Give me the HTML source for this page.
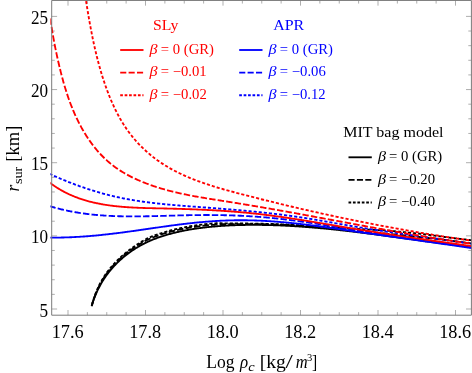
<!DOCTYPE html>
<html><head><meta charset="utf-8"><title>r_sur vs Log rho_c</title>
<style>html,body{margin:0;padding:0;background:#fff;overflow:hidden}body{width:472px;height:373px;font-family:"Liberation Serif",serif}svg{display:block;opacity:0.999;will-change:transform}</style></head>
<body>
<svg width="472" height="373" viewBox="0 0 472 373">
<rect width="472" height="373" fill="#fff"/>
<defs><clipPath id="c"><rect x="50.400000000000006" y="0" width="422.3" height="315.2"/></clipPath></defs>
<path d="M68.00,315.2 v-5.2 M68.00,0.45 v5.2 M87.37,315.2 v-3.1 M87.37,0.45 v3.1 M106.75,315.2 v-3.1 M106.75,0.45 v3.1 M126.12,315.2 v-3.1 M126.12,0.45 v3.1 M145.50,315.2 v-5.2 M145.50,0.45 v5.2 M164.88,315.2 v-3.1 M164.88,0.45 v3.1 M184.25,315.2 v-3.1 M184.25,0.45 v3.1 M203.62,315.2 v-3.1 M203.62,0.45 v3.1 M223.00,315.2 v-5.2 M223.00,0.45 v5.2 M242.37,315.2 v-3.1 M242.37,0.45 v3.1 M261.75,315.2 v-3.1 M261.75,0.45 v3.1 M281.12,315.2 v-3.1 M281.12,0.45 v3.1 M300.50,315.2 v-5.2 M300.50,0.45 v5.2 M319.87,315.2 v-3.1 M319.87,0.45 v3.1 M339.25,315.2 v-3.1 M339.25,0.45 v3.1 M358.62,315.2 v-3.1 M358.62,0.45 v3.1 M378.00,315.2 v-5.2 M378.00,0.45 v5.2 M397.37,315.2 v-3.1 M397.37,0.45 v3.1 M416.75,315.2 v-3.1 M416.75,0.45 v3.1 M436.12,315.2 v-3.1 M436.12,0.45 v3.1 M455.50,315.2 v-5.2 M455.50,0.45 v5.2 M51.7,309.00 h5.4 M471.4,309.00 h-5.4 M51.7,294.37 h3.1 M471.4,294.37 h-3.1 M51.7,279.74 h3.1 M471.4,279.74 h-3.1 M51.7,265.11 h3.1 M471.4,265.11 h-3.1 M51.7,250.48 h3.1 M471.4,250.48 h-3.1 M51.7,235.85 h5.4 M471.4,235.85 h-5.4 M51.7,221.22 h3.1 M471.4,221.22 h-3.1 M51.7,206.59 h3.1 M471.4,206.59 h-3.1 M51.7,191.96 h3.1 M471.4,191.96 h-3.1 M51.7,177.33 h3.1 M471.4,177.33 h-3.1 M51.7,162.70 h5.4 M471.4,162.70 h-5.4 M51.7,148.07 h3.1 M471.4,148.07 h-3.1 M51.7,133.44 h3.1 M471.4,133.44 h-3.1 M51.7,118.81 h3.1 M471.4,118.81 h-3.1 M51.7,104.18 h3.1 M471.4,104.18 h-3.1 M51.7,89.55 h5.4 M471.4,89.55 h-5.4 M51.7,74.92 h3.1 M471.4,74.92 h-3.1 M51.7,60.29 h3.1 M471.4,60.29 h-3.1 M51.7,45.66 h3.1 M471.4,45.66 h-3.1 M51.7,31.03 h3.1 M471.4,31.03 h-3.1 M51.7,16.40 h5.4 M471.4,16.40 h-5.4" stroke="#8c8c8c" stroke-width="0.7" fill="none"/>
<g clip-path="url(#c)" fill="none" stroke-width="1.85" stroke-linejoin="round">
<path d="M91.63,306.30 L91.85,305.51 L92.08,304.72 L92.32,303.93 L92.56,303.14 L92.81,302.35 L93.07,301.57 L93.34,300.78 L93.61,300.00 L93.89,299.21 L94.17,298.43 L94.47,297.65 L94.77,296.87 L95.07,296.10 L95.39,295.32 L95.71,294.55 L96.03,293.78 L96.37,293.01 L96.71,292.24 L97.06,291.48 L97.41,290.72 L97.77,289.96 L98.14,289.21 L98.51,288.46 L98.89,287.71 L99.28,286.96 L99.67,286.22 L100.07,285.48 L100.47,284.75 L100.89,284.02 L101.30,283.29 L101.73,282.57 L102.16,281.85 L102.59,281.13 L103.03,280.42 L103.48,279.72 L103.94,279.02 L104.40,278.32 L104.86,277.63 L105.33,276.94 L105.81,276.26 L106.30,275.58 L106.78,274.90 L107.28,274.23 L107.78,273.57 L108.28,272.91 L108.80,272.25 L109.31,271.60 L109.84,270.95 L110.36,270.31 L110.90,269.67 L111.44,269.04 L111.98,268.41 L112.53,267.79 L113.08,267.17 L113.64,266.55 L114.21,265.94 L114.78,265.34 L115.35,264.74 L115.93,264.14 L116.52,263.55 L117.11,262.96 L117.70,262.38 L118.30,261.80 L118.91,261.23 L119.52,260.66 L120.13,260.10 L120.75,259.54 L121.37,258.99 L122.00,258.44 L122.63,257.89 L123.27,257.35 L123.91,256.82 L124.56,256.29 L125.21,255.76 L125.86,255.24 L126.52,254.73 L127.19,254.22 L127.85,253.71 L128.52,253.21 L129.20,252.72 L129.88,252.23 L130.56,251.74 L131.25,251.26 L131.94,250.79 L132.63,250.32 L133.33,249.86 L134.03,249.40 L134.74,248.94 L135.44,248.50 L136.16,248.05 L136.87,247.62 L137.59,247.19 L138.31,246.76 L139.03,246.34 L139.76,245.93 L140.49,245.52 L141.22,245.11 L141.96,244.72 L142.70,244.33 L143.44,243.94 L144.18,243.56 L144.93,243.19 L145.68,242.82 L146.43,242.46 L147.18,242.10 L147.94,241.75 L148.70,241.41 L149.46,241.07 L150.22,240.74 L150.98,240.41 L151.75,240.09 L152.52,239.77 L153.29,239.46 L154.06,239.16 L154.84,238.86 L155.61,238.57 L156.39,238.28 L157.17,237.99 L157.95,237.71 L158.73,237.44 L159.51,237.17 L160.30,236.90 L161.08,236.64 L161.87,236.38 L162.66,236.12 L163.45,235.87 L164.24,235.63 L165.03,235.39 L165.82,235.15 L166.61,234.91 L167.41,234.68 L168.20,234.45 L169.00,234.23 L169.79,234.01 L170.59,233.79 L171.39,233.58 L172.19,233.37 L172.99,233.16 L173.79,232.96 L174.60,232.76 L175.40,232.56 L176.20,232.37 L177.01,232.18 L177.81,231.99 L178.62,231.81 L179.43,231.63 L180.24,231.45 L181.05,231.28 L181.86,231.11 L182.67,230.94 L183.48,230.78 L184.29,230.62 L185.10,230.46 L185.92,230.30 L186.73,230.15 L187.55,230.00 L188.36,229.85 L189.18,229.71 L190.00,229.57 L190.82,229.43 L191.63,229.29 L192.45,229.16 L193.27,229.03 L194.09,228.90 L194.92,228.78 L195.74,228.65 L196.56,228.53 L197.38,228.41 L198.21,228.30 L199.03,228.19 L199.86,228.08 L200.68,227.97 L201.51,227.86 L202.33,227.76 L203.16,227.66 L203.99,227.56 L204.81,227.46 L205.64,227.37 L206.47,227.27 L207.30,227.18 L208.13,227.09 L208.96,227.01 L209.79,226.92 L210.62,226.84 L211.45,226.76 L212.29,226.68 L213.12,226.60 L213.95,226.53 L214.78,226.46 L215.62,226.38 L216.45,226.32 L217.29,226.25 L218.12,226.18 L218.95,226.12 L219.79,226.06 L220.62,226.00 L221.46,225.94 L222.30,225.88 L223.13,225.83 L223.97,225.77 L224.80,225.72 L225.64,225.67 L226.48,225.62 L227.32,225.58 L228.15,225.53 L228.99,225.49 L229.83,225.45 L230.67,225.41 L231.50,225.37 L232.34,225.33 L233.18,225.30 L234.02,225.27 L234.86,225.23 L235.70,225.20 L236.53,225.18 L237.37,225.15 L238.21,225.12 L239.05,225.10 L239.89,225.07 L240.73,225.05 L241.57,225.03 L242.41,225.01 L243.25,225.00 L244.08,224.98 L244.92,224.97 L245.76,224.95 L246.60,224.94 L247.44,224.93 L248.28,224.92 L249.12,224.92 L249.96,224.91 L250.79,224.90 L251.63,224.90 L252.47,224.90 L253.31,224.90 L254.15,224.90 L254.99,224.90 L255.82,224.90 L256.66,224.90 L257.50,224.91 L258.34,224.91 L259.17,224.92 L260.01,224.93 L260.85,224.94 L261.68,224.95 L262.52,224.96 L263.35,224.97 L264.19,224.99 L265.03,225.00 L265.86,225.02 L266.70,225.03 L267.53,225.05 L268.37,225.07 L269.20,225.09 L270.04,225.11 L270.87,225.14 L271.71,225.16 L272.54,225.18 L273.38,225.21 L274.21,225.24 L275.05,225.27 L275.88,225.29 L276.71,225.32 L277.55,225.35 L278.38,225.39 L279.21,225.42 L280.05,225.45 L280.88,225.49 L281.71,225.52 L282.55,225.56 L283.38,225.60 L284.21,225.64 L285.04,225.68 L285.88,225.72 L286.71,225.76 L287.54,225.80 L288.37,225.85 L289.20,225.89 L290.04,225.94 L290.87,225.98 L291.70,226.03 L292.53,226.08 L293.36,226.13 L294.19,226.18 L295.02,226.23 L295.85,226.28 L296.68,226.34 L297.51,226.39 L298.35,226.44 L299.18,226.50 L300.01,226.55 L300.84,226.61 L301.67,226.67 L302.50,226.73 L303.33,226.79 L304.16,226.85 L304.99,226.91 L305.82,226.97 L306.64,227.03 L307.47,227.10 L308.30,227.16 L309.13,227.23 L309.96,227.29 L310.79,227.36 L311.62,227.43 L312.45,227.50 L313.28,227.56 L314.11,227.63 L314.93,227.71 L315.76,227.78 L316.59,227.85 L317.42,227.92 L318.25,227.99 L319.07,228.07 L319.90,228.14 L320.73,228.22 L321.56,228.29 L322.39,228.37 L323.21,228.45 L324.04,228.53 L324.87,228.61 L325.70,228.69 L326.52,228.77 L327.35,228.85 L328.18,228.93 L329.01,229.01 L329.83,229.09 L330.66,229.18 L331.49,229.26 L332.31,229.34 L333.14,229.43 L333.97,229.52 L334.79,229.60 L335.62,229.69 L336.45,229.78 L337.27,229.86 L338.10,229.95 L338.93,230.04 L339.75,230.13 L340.58,230.22 L341.40,230.31 L342.23,230.40 L343.06,230.49 L343.88,230.59 L344.71,230.68 L345.53,230.77 L346.36,230.87 L347.19,230.96 L348.01,231.06 L348.84,231.15 L349.66,231.25 L350.49,231.34 L351.31,231.44 L352.14,231.54 L352.97,231.63 L353.79,231.73 L354.62,231.83 L355.44,231.93 L356.27,232.03 L357.09,232.13 L357.92,232.23 L358.74,232.33 L359.57,232.43 L360.39,232.53 L361.22,232.63 L362.04,232.73 L362.87,232.84 L363.69,232.94 L364.52,233.04 L365.34,233.15 L366.17,233.25 L367.00,233.35 L367.82,233.46 L368.65,233.56 L369.47,233.67 L370.30,233.77 L371.12,233.88 L371.95,233.99 L372.77,234.09 L373.60,234.20 L374.42,234.31 L375.24,234.41 L376.07,234.52 L376.89,234.63 L377.72,234.74 L378.54,234.84 L379.37,234.95 L380.19,235.06 L381.02,235.17 L381.84,235.28 L382.67,235.39 L383.49,235.50 L384.32,235.61 L385.14,235.72 L385.97,235.83 L386.79,235.94 L387.62,236.05 L388.44,236.16 L389.27,236.27 L390.09,236.38 L390.92,236.49 L391.74,236.60 L392.57,236.71 L393.39,236.83 L394.22,236.94 L395.04,237.05 L395.87,237.16 L396.69,237.27 L397.52,237.39 L398.34,237.50 L399.17,237.61 L399.99,237.72 L400.82,237.83 L401.64,237.95 L402.47,238.06 L403.30,238.17 L404.12,238.29 L404.95,238.40 L405.77,238.51 L406.60,238.62 L407.42,238.74 L408.25,238.85 L409.07,238.96 L409.90,239.08 L410.72,239.19 L411.55,239.30 L412.38,239.41 L413.20,239.53 L414.03,239.64 L414.85,239.75 L415.68,239.86 L416.51,239.98 L417.33,240.09 L418.16,240.20 L418.98,240.32 L419.81,240.43 L420.64,240.54 L421.46,240.65 L422.29,240.76 L423.11,240.88 L423.94,240.99 L424.77,241.10 L425.59,241.21 L426.42,241.32 L427.25,241.44 L428.07,241.55 L428.90,241.66 L429.73,241.77 L430.55,241.88 L431.38,241.99 L432.21,242.10 L433.04,242.21 L433.86,242.32 L434.69,242.43 L435.52,242.54 L436.34,242.65 L437.17,242.76 L438.00,242.87 L438.83,242.98 L439.66,243.09 L440.48,243.20 L441.31,243.31 L442.14,243.41 L442.97,243.52 L443.79,243.63 L444.62,243.74 L445.45,243.84 L446.28,243.95 L447.11,244.06 L447.94,244.16 L448.77,244.27 L449.59,244.37 L450.42,244.48 L451.25,244.58 L452.08,244.69 L452.91,244.79 L453.74,244.90 L454.57,245.00 L455.40,245.10 L456.23,245.21 L457.06,245.31 L457.89,245.41 L458.72,245.51 L459.55,245.62 L460.38,245.72 L461.21,245.82 L462.04,245.92 L462.87,246.02 L463.70,246.12 L464.53,246.22 L465.36,246.32 L466.19,246.41 L467.02,246.51 L467.85,246.61 L468.68,246.71 L469.51,246.80 L470.35,246.90 L471.18,246.99 L472.01,247.09" stroke="#000000"/>
<path d="M91.63,306.30 L91.83,305.51 L92.05,304.71 L92.27,303.92 L92.49,303.12 L92.73,302.33 L92.97,301.53 L93.21,300.74 L93.47,299.95 L93.73,299.16 L94.00,298.37 L94.27,297.58 L94.56,296.79 L94.85,296.00 L95.14,295.22 L95.45,294.44 L95.76,293.66 L96.07,292.88 L96.40,292.11 L96.73,291.33 L97.07,290.56 L97.42,289.79 L97.77,289.03 L98.13,288.26 L98.49,287.50 L98.86,286.75 L99.24,285.99 L99.63,285.24 L100.02,284.50 L100.41,283.75 L100.82,283.01 L101.23,282.27 L101.64,281.54 L102.06,280.81 L102.49,280.08 L102.92,279.36 L103.36,278.64 L103.81,277.93 L104.26,277.22 L104.72,276.52 L105.19,275.82 L105.66,275.12 L106.14,274.43 L106.63,273.75 L107.12,273.07 L107.62,272.40 L108.13,271.73 L108.64,271.06 L109.16,270.40 L109.68,269.75 L110.21,269.09 L110.74,268.45 L111.29,267.81 L111.83,267.17 L112.38,266.54 L112.94,265.91 L113.50,265.29 L114.07,264.67 L114.64,264.05 L115.22,263.44 L115.80,262.84 L116.39,262.24 L116.98,261.64 L117.58,261.05 L118.19,260.46 L118.79,259.88 L119.41,259.31 L120.03,258.73 L120.65,258.17 L121.28,257.60 L121.91,257.05 L122.55,256.49 L123.19,255.94 L123.83,255.40 L124.48,254.86 L125.14,254.32 L125.79,253.79 L126.46,253.26 L127.12,252.74 L127.79,252.22 L128.46,251.70 L129.14,251.19 L129.82,250.69 L130.50,250.18 L131.19,249.69 L131.88,249.20 L132.57,248.71 L133.27,248.22 L133.97,247.75 L134.68,247.27 L135.39,246.80 L136.10,246.34 L136.81,245.88 L137.53,245.43 L138.25,244.98 L138.98,244.54 L139.70,244.10 L140.43,243.67 L141.16,243.23 L141.90,242.80 L142.63,242.37 L143.37,241.95 L144.11,241.54 L144.86,241.13 L145.60,240.73 L146.36,240.34 L147.12,239.96 L147.88,239.59 L148.65,239.24 L149.43,238.90 L150.20,238.57 L150.98,238.24 L151.77,237.92 L152.55,237.61 L153.33,237.30 L154.12,236.99 L154.91,236.69 L155.70,236.40 L156.49,236.11 L157.28,235.83 L158.07,235.55 L158.86,235.27 L159.66,235.00 L160.45,234.74 L161.25,234.48 L162.05,234.22 L162.85,233.97 L163.64,233.72 L164.44,233.47 L165.25,233.23 L166.05,232.99 L166.85,232.76 L167.65,232.53 L168.46,232.30 L169.26,232.08 L170.07,231.86 L170.88,231.64 L171.69,231.43 L172.50,231.22 L173.31,231.02 L174.12,230.82 L174.93,230.62 L175.74,230.42 L176.55,230.23 L177.37,230.05 L178.18,229.86 L179.00,229.68 L179.81,229.50 L180.63,229.33 L181.45,229.16 L182.27,228.99 L183.09,228.83 L183.91,228.67 L184.73,228.51 L185.55,228.36 L186.37,228.21 L187.19,228.06 L188.02,227.92 L188.84,227.78 L189.67,227.64 L190.49,227.50 L191.32,227.37 L192.14,227.24 L192.97,227.11 L193.80,226.99 L194.63,226.87 L195.46,226.75 L196.28,226.63 L197.11,226.52 L197.94,226.41 L198.77,226.30 L199.61,226.19 L200.44,226.09 L201.27,225.99 L202.10,225.89 L202.93,225.80 L203.77,225.70 L204.60,225.62 L205.44,225.53 L206.27,225.45 L207.11,225.37 L207.94,225.29 L208.78,225.21 L209.61,225.14 L210.45,225.07 L211.29,225.00 L212.12,224.94 L212.96,224.87 L213.80,224.81 L214.64,224.75 L215.48,224.70 L216.31,224.64 L217.15,224.59 L217.99,224.54 L218.83,224.49 L219.67,224.45 L220.51,224.41 L221.35,224.37 L222.19,224.33 L223.03,224.29 L223.87,224.25 L224.71,224.22 L225.55,224.19 L226.40,224.16 L227.24,224.14 L228.08,224.12 L228.92,224.11 L229.76,224.10 L230.60,224.09 L231.45,224.09 L232.29,224.08 L233.13,224.08 L233.97,224.08 L234.81,224.09 L235.66,224.09 L236.50,224.09 L237.34,224.10 L238.18,224.10 L239.02,224.10 L239.86,224.11 L240.71,224.11 L241.55,224.11 L242.39,224.11 L243.23,224.10 L244.07,224.10 L244.91,224.10 L245.75,224.09 L246.59,224.09 L247.43,224.09 L248.27,224.10 L249.11,224.10 L249.95,224.10 L250.79,224.11 L251.63,224.11 L252.47,224.12 L253.31,224.13 L254.15,224.14 L254.99,224.15 L255.83,224.16 L256.66,224.17 L257.50,224.18 L258.34,224.19 L259.18,224.20 L260.02,224.21 L260.85,224.23 L261.69,224.24 L262.53,224.26 L263.37,224.27 L264.20,224.29 L265.04,224.30 L265.88,224.32 L266.71,224.33 L267.55,224.35 L268.39,224.37 L269.22,224.39 L270.06,224.41 L270.89,224.44 L271.73,224.46 L272.56,224.48 L273.40,224.51 L274.23,224.54 L275.07,224.57 L275.90,224.59 L276.74,224.62 L277.57,224.66 L278.41,224.69 L279.24,224.72 L280.08,224.75 L280.91,224.79 L281.74,224.83 L282.58,224.86 L283.41,224.90 L284.24,224.94 L285.08,224.98 L285.91,225.02 L286.74,225.06 L287.58,225.10 L288.41,225.15 L289.24,225.19 L290.07,225.24 L290.91,225.29 L291.74,225.33 L292.57,225.38 L293.40,225.43 L294.23,225.48 L295.07,225.53 L295.90,225.58 L296.73,225.64 L297.56,225.69 L298.39,225.74 L299.22,225.80 L300.05,225.86 L300.88,225.91 L301.72,225.97 L302.55,226.03 L303.38,226.08 L304.21,226.14 L305.04,226.20 L305.87,226.26 L306.70,226.32 L307.53,226.38 L308.36,226.43 L309.19,226.49 L310.02,226.55 L310.85,226.61 L311.68,226.67 L312.51,226.73 L313.34,226.79 L314.17,226.86 L315.00,226.92 L315.83,226.98 L316.66,227.04 L317.49,227.10 L318.32,227.16 L319.15,227.23 L319.98,227.29 L320.81,227.35 L321.64,227.42 L322.47,227.48 L323.30,227.55 L324.13,227.61 L324.96,227.68 L325.79,227.74 L326.62,227.81 L327.45,227.88 L328.28,227.95 L329.10,228.01 L329.93,228.08 L330.76,228.15 L331.59,228.22 L332.42,228.29 L333.25,228.36 L334.08,228.43 L334.91,228.50 L335.74,228.57 L336.57,228.64 L337.40,228.71 L338.22,228.79 L339.05,228.86 L339.88,228.93 L340.71,229.01 L341.54,229.08 L342.37,229.16 L343.20,229.23 L344.03,229.31 L344.85,229.38 L345.68,229.46 L346.51,229.54 L347.34,229.62 L348.17,229.70 L349.00,229.78 L349.82,229.86 L350.65,229.94 L351.48,230.02 L352.31,230.10 L353.14,230.18 L353.97,230.26 L354.79,230.35 L355.62,230.43 L356.45,230.52 L357.28,230.60 L358.11,230.69 L358.93,230.77 L359.76,230.86 L360.59,230.94 L361.42,231.03 L362.24,231.12 L363.07,231.20 L363.90,231.29 L364.73,231.38 L365.56,231.46 L366.38,231.55 L367.21,231.64 L368.04,231.73 L368.87,231.81 L369.70,231.90 L370.52,231.99 L371.35,232.08 L372.18,232.16 L373.01,232.25 L373.84,232.34 L374.66,232.43 L375.49,232.52 L376.32,232.61 L377.15,232.69 L377.98,232.78 L378.80,232.87 L379.63,232.96 L380.46,233.05 L381.29,233.14 L382.12,233.22 L382.94,233.31 L383.77,233.40 L384.60,233.49 L385.43,233.58 L386.26,233.66 L387.09,233.75 L387.91,233.84 L388.74,233.92 L389.57,234.01 L390.40,234.10 L391.23,234.18 L392.06,234.27 L392.89,234.35 L393.72,234.43 L394.55,234.51 L395.38,234.59 L396.21,234.66 L397.04,234.74 L397.87,234.82 L398.70,234.89 L399.53,234.97 L400.36,235.04 L401.19,235.12 L402.02,235.19 L402.85,235.27 L403.68,235.35 L404.51,235.42 L405.34,235.50 L406.17,235.58 L407.00,235.66 L407.83,235.75 L408.66,235.83 L409.49,235.92 L410.32,236.01 L411.15,236.10 L411.98,236.19 L412.80,236.28 L413.63,236.37 L414.46,236.46 L415.29,236.55 L416.12,236.64 L416.95,236.73 L417.78,236.81 L418.61,236.90 L419.44,236.99 L420.26,237.08 L421.09,237.17 L421.92,237.26 L422.75,237.35 L423.58,237.45 L424.41,237.54 L425.24,237.63 L426.07,237.72 L426.89,237.81 L427.72,237.90 L428.55,238.00 L429.38,238.09 L430.21,238.18 L431.04,238.28 L431.87,238.37 L432.69,238.46 L433.52,238.56 L434.35,238.66 L435.18,238.75 L436.01,238.85 L436.84,238.95 L437.66,239.05 L438.49,239.14 L439.32,239.24 L440.15,239.35 L440.97,239.45 L441.80,239.55 L442.63,239.65 L443.46,239.76 L444.28,239.86 L445.11,239.97 L445.94,240.07 L446.76,240.18 L447.59,240.29 L448.42,240.40 L449.25,240.50 L450.07,240.61 L450.90,240.72 L451.73,240.83 L452.55,240.94 L453.38,241.04 L454.21,241.15 L455.04,241.26 L455.86,241.37 L456.69,241.48 L457.52,241.59 L458.34,241.70 L459.17,241.81 L460.00,241.92 L460.83,242.03 L461.65,242.14 L462.48,242.25 L463.31,242.37 L464.13,242.48 L464.96,242.59 L465.79,242.70 L466.62,242.82 L467.44,242.93 L468.27,243.04 L469.10,243.16 L469.92,243.27 L470.75,243.38 L471.58,243.50 L472.41,243.61" stroke="#000000" stroke-dasharray="6.4 2.2" stroke-dashoffset="8.13"/>
<path d="M91.63,306.30 L91.82,305.50 L92.03,304.71 L92.24,303.91 L92.45,303.11 L92.68,302.31 L92.91,301.51 L93.14,300.71 L93.39,299.92 L93.64,299.12 L93.89,298.33 L94.15,297.53 L94.42,296.74 L94.70,295.95 L94.98,295.16 L95.27,294.37 L95.57,293.58 L95.87,292.79 L96.18,292.01 L96.50,291.22 L96.82,290.44 L97.15,289.66 L97.48,288.89 L97.82,288.11 L98.17,287.34 L98.53,286.57 L98.90,285.81 L99.27,285.05 L99.66,284.29 L100.05,283.54 L100.44,282.79 L100.85,282.05 L101.26,281.31 L101.68,280.57 L102.10,279.84 L102.53,279.11 L102.97,278.39 L103.42,277.67 L103.87,276.95 L104.33,276.24 L104.79,275.54 L105.26,274.84 L105.74,274.14 L106.23,273.45 L106.72,272.76 L107.22,272.08 L107.72,271.40 L108.23,270.73 L108.75,270.06 L109.27,269.40 L109.80,268.74 L110.33,268.09 L110.87,267.44 L111.41,266.80 L111.96,266.16 L112.52,265.52 L113.08,264.89 L113.65,264.26 L114.22,263.64 L114.79,263.02 L115.37,262.41 L115.96,261.80 L116.55,261.19 L117.14,260.59 L117.74,259.99 L118.35,259.40 L118.96,258.81 L119.57,258.23 L120.19,257.65 L120.81,257.07 L121.44,256.50 L122.08,255.93 L122.71,255.37 L123.36,254.81 L124.00,254.26 L124.65,253.71 L125.31,253.16 L125.97,252.62 L126.63,252.09 L127.30,251.55 L127.97,251.03 L128.65,250.50 L129.33,249.99 L130.01,249.47 L130.70,248.97 L131.39,248.46 L132.08,247.96 L132.78,247.47 L133.48,246.98 L134.19,246.49 L134.90,246.01 L135.61,245.54 L136.32,245.06 L137.04,244.60 L137.76,244.13 L138.49,243.67 L139.21,243.22 L139.94,242.76 L140.67,242.30 L141.39,241.84 L142.12,241.38 L142.85,240.93 L143.59,240.49 L144.33,240.05 L145.07,239.62 L145.83,239.20 L146.59,238.80 L147.35,238.42 L148.13,238.05 L148.91,237.71 L149.70,237.37 L150.49,237.04 L151.28,236.72 L152.07,236.40 L152.86,236.09 L153.66,235.79 L154.45,235.49 L155.25,235.19 L156.05,234.91 L156.85,234.62 L157.65,234.35 L158.45,234.07 L159.26,233.81 L160.06,233.54 L160.86,233.28 L161.67,233.03 L162.47,232.78 L163.28,232.53 L164.09,232.29 L164.89,232.05 L165.70,231.82 L166.51,231.58 L167.32,231.36 L168.13,231.13 L168.94,230.91 L169.76,230.69 L170.57,230.48 L171.38,230.27 L172.20,230.06 L173.01,229.85 L173.83,229.65 L174.65,229.45 L175.46,229.26 L176.28,229.06 L177.10,228.87 L177.92,228.69 L178.74,228.51 L179.56,228.33 L180.38,228.15 L181.20,227.98 L182.03,227.81 L182.85,227.64 L183.67,227.48 L184.50,227.32 L185.32,227.16 L186.15,227.00 L186.97,226.85 L187.80,226.70 L188.63,226.56 L189.46,226.41 L190.29,226.27 L191.12,226.13 L191.94,226.00 L192.78,225.87 L193.61,225.74 L194.44,225.61 L195.27,225.49 L196.10,225.37 L196.93,225.25 L197.77,225.13 L198.60,225.02 L199.43,224.90 L200.27,224.79 L201.10,224.69 L201.94,224.58 L202.77,224.48 L203.61,224.38 L204.45,224.28 L205.28,224.19 L206.12,224.09 L206.96,224.00 L207.80,223.91 L208.63,223.82 L209.47,223.74 L210.31,223.66 L211.15,223.57 L211.99,223.50 L212.83,223.43 L213.67,223.38 L214.51,223.34 L215.36,223.31 L216.20,223.29 L217.05,223.28 L217.89,223.27 L218.74,223.27 L219.59,223.28 L220.43,223.29 L221.28,223.29 L222.12,223.30 L222.97,223.31 L223.81,223.32 L224.66,223.32 L225.50,223.31 L226.35,223.31 L227.19,223.31 L228.04,223.32 L228.88,223.33 L229.73,223.33 L230.57,223.34 L231.41,223.36 L232.26,223.37 L233.10,223.38 L233.95,223.39 L234.79,223.41 L235.63,223.42 L236.48,223.44 L237.32,223.45 L238.16,223.46 L239.01,223.47 L239.85,223.48 L240.69,223.49 L241.53,223.50 L242.37,223.50 L243.22,223.50 L244.06,223.51 L244.90,223.51 L245.74,223.51 L246.58,223.52 L247.42,223.53 L248.27,223.53 L249.11,223.54 L249.95,223.55 L250.79,223.56 L251.63,223.57 L252.47,223.58 L253.31,223.60 L254.15,223.61 L254.99,223.62 L255.83,223.64 L256.67,223.65 L257.51,223.66 L258.34,223.68 L259.18,223.69 L260.02,223.71 L260.86,223.72 L261.70,223.74 L262.54,223.75 L263.37,223.77 L264.21,223.79 L265.05,223.80 L265.89,223.82 L266.72,223.83 L267.56,223.85 L268.40,223.87 L269.23,223.89 L270.07,223.91 L270.91,223.93 L271.74,223.96 L272.58,223.98 L273.41,224.00 L274.25,224.03 L275.09,224.06 L275.92,224.08 L276.76,224.11 L277.59,224.14 L278.43,224.17 L279.26,224.20 L280.10,224.23 L280.93,224.27 L281.77,224.30 L282.60,224.34 L283.44,224.37 L284.27,224.41 L285.10,224.44 L285.94,224.48 L286.77,224.52 L287.60,224.56 L288.44,224.60 L289.27,224.64 L290.10,224.69 L290.94,224.73 L291.77,224.77 L292.60,224.82 L293.44,224.86 L294.27,224.91 L295.10,224.96 L295.93,225.01 L296.77,225.05 L297.60,225.10 L298.43,225.15 L299.26,225.21 L300.09,225.26 L300.93,225.31 L301.76,225.36 L302.59,225.41 L303.42,225.47 L304.25,225.52 L305.09,225.57 L305.92,225.62 L306.75,225.67 L307.58,225.73 L308.41,225.78 L309.24,225.83 L310.07,225.88 L310.91,225.93 L311.74,225.98 L312.57,226.04 L313.40,226.09 L314.23,226.14 L315.06,226.19 L315.89,226.24 L316.73,226.30 L317.56,226.35 L318.39,226.40 L319.22,226.45 L320.05,226.51 L320.88,226.56 L321.71,226.61 L322.54,226.67 L323.38,226.72 L324.21,226.78 L325.04,226.83 L325.87,226.89 L326.70,226.94 L327.53,227.00 L328.36,227.05 L329.19,227.11 L330.03,227.17 L330.86,227.23 L331.69,227.28 L332.52,227.34 L333.35,227.40 L334.18,227.46 L335.01,227.52 L335.84,227.58 L336.67,227.64 L337.50,227.70 L338.34,227.75 L339.17,227.81 L340.00,227.86 L340.83,227.92 L341.66,227.97 L342.49,228.02 L343.33,228.08 L344.16,228.13 L344.99,228.18 L345.82,228.23 L346.65,228.28 L347.49,228.33 L348.32,228.38 L349.15,228.43 L349.98,228.48 L350.82,228.53 L351.65,228.58 L352.48,228.63 L353.32,228.68 L354.15,228.73 L354.98,228.77 L355.81,228.82 L356.65,228.88 L357.48,228.93 L358.31,228.98 L359.15,229.03 L359.98,229.08 L360.81,229.13 L361.64,229.18 L362.48,229.23 L363.31,229.28 L364.14,229.33 L364.98,229.38 L365.81,229.42 L366.65,229.47 L367.48,229.51 L368.31,229.56 L369.15,229.60 L369.98,229.64 L370.82,229.69 L371.65,229.73 L372.49,229.77 L373.32,229.82 L374.16,229.86 L374.99,229.90 L375.83,229.95 L376.66,229.99 L377.49,230.04 L378.33,230.08 L379.16,230.13 L380.00,230.17 L380.83,230.22 L381.67,230.27 L382.50,230.32 L383.33,230.38 L384.17,230.43 L385.00,230.49 L385.83,230.54 L386.67,230.60 L387.50,230.66 L388.33,230.72 L389.16,230.79 L390.00,230.86 L390.83,230.93 L391.66,231.00 L392.49,231.07 L393.32,231.14 L394.15,231.21 L394.98,231.29 L395.81,231.36 L396.64,231.44 L397.48,231.52 L398.31,231.59 L399.14,231.67 L399.97,231.75 L400.80,231.83 L401.63,231.91 L402.46,231.99 L403.29,232.07 L404.12,232.16 L404.95,232.24 L405.78,232.32 L406.61,232.41 L407.43,232.49 L408.26,232.58 L409.09,232.66 L409.92,232.75 L410.75,232.84 L411.58,232.92 L412.41,233.01 L413.24,233.09 L414.07,233.18 L414.90,233.26 L415.73,233.34 L416.56,233.43 L417.39,233.51 L418.22,233.60 L419.05,233.68 L419.87,233.77 L420.70,233.86 L421.53,233.95 L422.36,234.05 L423.19,234.15 L424.01,234.25 L424.84,234.35 L425.67,234.46 L426.49,234.57 L427.32,234.68 L428.14,234.80 L428.97,234.91 L429.79,235.02 L430.62,235.13 L431.44,235.24 L432.27,235.35 L433.10,235.46 L433.92,235.57 L434.75,235.68 L435.57,235.79 L436.40,235.90 L437.22,236.01 L438.05,236.12 L438.88,236.23 L439.70,236.34 L440.53,236.45 L441.35,236.55 L442.18,236.66 L443.01,236.77 L443.83,236.88 L444.66,236.98 L445.48,237.09 L446.31,237.20 L447.14,237.30 L447.96,237.41 L448.79,237.52 L449.61,237.62 L450.44,237.72 L451.27,237.83 L452.09,237.93 L452.92,238.03 L453.75,238.13 L454.57,238.24 L455.40,238.34 L456.23,238.44 L457.05,238.54 L457.88,238.64 L458.71,238.74 L459.54,238.83 L460.36,238.93 L461.19,239.03 L462.02,239.12 L462.85,239.22 L463.67,239.32 L464.50,239.41 L465.33,239.51 L466.16,239.60 L466.98,239.69 L467.81,239.79 L468.64,239.88 L469.47,239.97 L470.30,240.06 L471.12,240.15 L471.95,240.24 L472.78,240.33" stroke="#000000" stroke-dasharray="3.15 1.95" stroke-dashoffset="3.46"/>
<path d="M49.53,237.58 L50.38,237.59 L51.23,237.60 L52.08,237.61 L52.92,237.61 L53.77,237.61 L54.62,237.61 L55.47,237.61 L56.31,237.60 L57.16,237.60 L58.01,237.59 L58.86,237.58 L59.70,237.57 L60.55,237.55 L61.40,237.54 L62.25,237.52 L63.09,237.50 L63.94,237.48 L64.79,237.45 L65.64,237.43 L66.48,237.40 L67.33,237.38 L68.18,237.35 L69.03,237.31 L69.87,237.28 L70.72,237.24 L71.57,237.21 L72.42,237.17 L73.27,237.13 L74.11,237.09 L74.96,237.04 L75.81,237.00 L76.66,236.95 L77.50,236.90 L78.35,236.85 L79.20,236.80 L80.05,236.75 L80.89,236.70 L81.74,236.64 L82.59,236.58 L83.44,236.52 L84.29,236.46 L85.13,236.40 L85.98,236.34 L86.83,236.27 L87.68,236.21 L88.52,236.14 L89.37,236.07 L90.22,236.00 L91.07,235.93 L91.92,235.86 L92.76,235.78 L93.61,235.71 L94.46,235.63 L95.31,235.55 L96.15,235.47 L97.00,235.39 L97.85,235.31 L98.70,235.23 L99.55,235.14 L100.39,235.06 L101.24,234.97 L102.09,234.88 L102.94,234.79 L103.79,234.70 L104.63,234.61 L105.48,234.52 L106.33,234.43 L107.18,234.33 L108.03,234.24 L108.87,234.14 L109.72,234.04 L110.57,233.94 L111.42,233.84 L112.27,233.74 L113.11,233.64 L113.96,233.54 L114.81,233.44 L115.66,233.33 L116.51,233.23 L117.35,233.12 L118.20,233.01 L119.05,232.91 L119.90,232.80 L120.75,232.69 L121.59,232.58 L122.44,232.47 L123.29,232.35 L124.14,232.24 L124.99,232.13 L125.83,232.01 L126.68,231.90 L127.53,231.78 L128.38,231.67 L129.23,231.55 L130.07,231.43 L130.92,231.32 L131.77,231.20 L132.62,231.08 L133.47,230.96 L134.31,230.84 L135.16,230.72 L136.01,230.60 L136.86,230.48 L137.71,230.36 L138.56,230.24 L139.40,230.12 L140.25,230.00 L141.10,229.88 L141.95,229.75 L142.80,229.63 L143.64,229.51 L144.49,229.39 L145.34,229.26 L146.19,229.14 L147.04,229.02 L147.88,228.89 L148.73,228.77 L149.58,228.65 L150.43,228.53 L151.28,228.40 L152.13,228.28 L152.97,228.16 L153.82,228.03 L154.67,227.91 L155.52,227.79 L156.37,227.67 L157.21,227.55 L158.06,227.43 L158.91,227.30 L159.76,227.18 L160.61,227.06 L161.45,226.94 L162.30,226.82 L163.15,226.70 L164.00,226.58 L164.85,226.47 L165.70,226.35 L166.54,226.23 L167.39,226.11 L168.24,226.00 L169.09,225.88 L169.94,225.76 L170.78,225.65 L171.63,225.54 L172.48,225.42 L173.33,225.31 L174.18,225.20 L175.02,225.09 L175.87,224.97 L176.72,224.86 L177.57,224.76 L178.42,224.65 L179.27,224.54 L180.11,224.43 L180.96,224.33 L181.81,224.22 L182.66,224.12 L183.51,224.02 L184.35,223.92 L185.20,223.82 L186.05,223.72 L186.90,223.62 L187.75,223.52 L188.59,223.42 L189.44,223.33 L190.29,223.23 L191.14,223.14 L191.99,223.05 L192.84,222.96 L193.68,222.87 L194.53,222.78 L195.38,222.70 L196.23,222.61 L197.08,222.53 L197.92,222.44 L198.77,222.36 L199.62,222.28 L200.47,222.20 L201.32,222.12 L202.16,222.05 L203.01,221.97 L203.86,221.90 L204.71,221.83 L205.56,221.76 L206.40,221.69 L207.25,221.62 L208.10,221.55 L208.95,221.49 L209.80,221.42 L210.64,221.36 L211.49,221.30 L212.34,221.24 L213.19,221.19 L214.04,221.13 L214.88,221.08 L215.73,221.02 L216.58,220.97 L217.43,220.92 L218.28,220.87 L219.12,220.83 L219.97,220.78 L220.82,220.74 L221.67,220.70 L222.52,220.66 L223.36,220.62 L224.21,220.59 L225.06,220.55 L225.91,220.52 L226.75,220.49 L227.60,220.46 L228.45,220.43 L229.30,220.41 L230.15,220.38 L230.99,220.36 L231.84,220.34 L232.69,220.32 L233.54,220.31 L234.39,220.29 L235.23,220.28 L236.08,220.27 L236.93,220.26 L237.78,220.25 L238.62,220.25 L239.47,220.25 L240.32,220.24 L241.17,220.24 L242.02,220.25 L242.86,220.25 L243.71,220.25 L244.56,220.26 L245.41,220.27 L246.25,220.28 L247.10,220.29 L247.95,220.30 L248.80,220.32 L249.64,220.34 L250.49,220.36 L251.34,220.38 L252.19,220.40 L253.04,220.42 L253.88,220.45 L254.73,220.47 L255.58,220.50 L256.43,220.53 L257.27,220.56 L258.12,220.60 L258.97,220.63 L259.82,220.67 L260.66,220.70 L261.51,220.74 L262.36,220.78 L263.21,220.83 L264.05,220.87 L264.90,220.92 L265.75,220.96 L266.60,221.01 L267.44,221.06 L268.29,221.11 L269.14,221.17 L269.99,221.22 L270.83,221.28 L271.68,221.33 L272.53,221.39 L273.38,221.45 L274.22,221.51 L275.07,221.57 L275.92,221.64 L276.77,221.70 L277.61,221.77 L278.46,221.84 L279.31,221.91 L280.15,221.98 L281.00,222.05 L281.85,222.12 L282.70,222.20 L283.54,222.27 L284.39,222.35 L285.24,222.43 L286.09,222.50 L286.93,222.58 L287.78,222.66 L288.63,222.75 L289.47,222.83 L290.32,222.91 L291.17,223.00 L292.02,223.09 L292.86,223.17 L293.71,223.26 L294.56,223.35 L295.40,223.44 L296.25,223.53 L297.10,223.63 L297.94,223.72 L298.79,223.81 L299.64,223.91 L300.49,224.00 L301.33,224.10 L302.18,224.20 L303.03,224.30 L303.87,224.40 L304.72,224.50 L305.57,224.60 L306.41,224.70 L307.26,224.80 L308.11,224.91 L308.95,225.01 L309.80,225.12 L310.65,225.22 L311.50,225.33 L312.34,225.44 L313.19,225.54 L314.04,225.65 L314.88,225.76 L315.73,225.87 L316.58,225.98 L317.42,226.09 L318.27,226.21 L319.12,226.32 L319.96,226.43 L320.81,226.54 L321.66,226.66 L322.50,226.77 L323.35,226.89 L324.19,227.00 L325.04,227.12 L325.89,227.24 L326.73,227.35 L327.58,227.47 L328.43,227.59 L329.27,227.71 L330.12,227.83 L330.97,227.94 L331.81,228.06 L332.66,228.18 L333.51,228.30 L334.35,228.42 L335.20,228.54 L336.04,228.67 L336.89,228.79 L337.74,228.91 L338.58,229.03 L339.43,229.15 L340.28,229.27 L341.12,229.40 L341.97,229.52 L342.81,229.64 L343.66,229.76 L344.51,229.89 L345.35,230.01 L346.20,230.13 L347.04,230.26 L347.89,230.38 L348.74,230.50 L349.58,230.63 L350.43,230.75 L351.27,230.88 L352.12,231.00 L352.97,231.12 L353.81,231.25 L354.66,231.37 L355.50,231.49 L356.35,231.62 L357.20,231.74 L358.04,231.86 L358.89,231.99 L359.73,232.11 L360.58,232.23 L361.42,232.36 L362.27,232.48 L363.12,232.60 L363.96,232.73 L364.81,232.85 L365.65,232.97 L366.50,233.09 L367.34,233.21 L368.19,233.34 L369.04,233.46 L369.88,233.58 L370.73,233.70 L371.57,233.82 L372.42,233.94 L373.26,234.07 L374.11,234.19 L374.95,234.31 L375.80,234.43 L376.64,234.55 L377.49,234.67 L378.33,234.79 L379.18,234.91 L380.03,235.03 L380.87,235.15 L381.72,235.27 L382.56,235.39 L383.41,235.51 L384.25,235.63 L385.10,235.75 L385.94,235.87 L386.79,235.99 L387.63,236.11 L388.48,236.23 L389.32,236.35 L390.17,236.47 L391.01,236.59 L391.86,236.71 L392.70,236.83 L393.55,236.95 L394.39,237.07 L395.24,237.19 L396.08,237.31 L396.93,237.43 L397.77,237.55 L398.61,237.67 L399.46,237.79 L400.30,237.91 L401.15,238.03 L401.99,238.14 L402.84,238.26 L403.68,238.38 L404.53,238.50 L405.37,238.62 L406.22,238.74 L407.06,238.86 L407.91,238.98 L408.75,239.10 L409.59,239.21 L410.44,239.33 L411.28,239.45 L412.13,239.57 L412.97,239.69 L413.82,239.81 L414.66,239.93 L415.50,240.05 L416.35,240.16 L417.19,240.28 L418.04,240.40 L418.88,240.52 L419.72,240.64 L420.57,240.76 L421.41,240.88 L422.26,241.00 L423.10,241.11 L423.94,241.23 L424.79,241.35 L425.63,241.47 L426.48,241.59 L427.32,241.71 L428.16,241.83 L429.01,241.95 L429.85,242.07 L430.70,242.18 L431.54,242.30 L432.38,242.42 L433.23,242.54 L434.07,242.66 L434.91,242.78 L435.76,242.90 L436.60,243.02 L437.44,243.14 L438.29,243.26 L439.13,243.38 L439.97,243.50 L440.82,243.62 L441.66,243.73 L442.50,243.85 L443.35,243.97 L444.19,244.09 L445.03,244.21 L445.88,244.33 L446.72,244.45 L447.56,244.57 L448.41,244.69 L449.25,244.81 L450.09,244.93 L450.94,245.05 L451.78,245.17 L452.62,245.30 L453.47,245.42 L454.31,245.54 L455.15,245.66 L455.99,245.78 L456.84,245.90 L457.68,246.02 L458.52,246.14 L459.37,246.26 L460.21,246.38 L461.05,246.50 L461.89,246.63 L462.74,246.75 L463.58,246.87 L464.42,246.99 L465.26,247.11 L466.11,247.24 L466.95,247.36 L467.79,247.48 L468.63,247.60 L469.48,247.72 L470.32,247.85 L471.16,247.97 L472.00,248.09" stroke="#0000ff"/>
<path d="M49.41,206.12 L50.25,206.37 L51.09,206.62 L51.93,206.86 L52.77,207.10 L53.62,207.34 L54.46,207.57 L55.30,207.80 L56.14,208.03 L56.98,208.25 L57.82,208.47 L58.66,208.68 L59.51,208.89 L60.35,209.10 L61.19,209.31 L62.03,209.51 L62.87,209.70 L63.72,209.89 L64.56,210.08 L65.40,210.27 L66.24,210.45 L67.09,210.63 L67.93,210.81 L68.77,210.98 L69.61,211.15 L70.46,211.31 L71.30,211.48 L72.14,211.64 L72.99,211.79 L73.83,211.95 L74.67,212.09 L75.52,212.24 L76.36,212.38 L77.21,212.52 L78.05,212.66 L78.89,212.80 L79.74,212.93 L80.58,213.06 L81.43,213.18 L82.27,213.30 L83.12,213.42 L83.96,213.54 L84.81,213.65 L85.65,213.76 L86.49,213.87 L87.34,213.98 L88.18,214.08 L89.03,214.18 L89.88,214.28 L90.72,214.37 L91.57,214.47 L92.41,214.56 L93.26,214.64 L94.10,214.73 L94.95,214.81 L95.79,214.89 L96.64,214.97 L97.49,215.04 L98.33,215.12 L99.18,215.19 L100.03,215.25 L100.87,215.32 L101.72,215.38 L102.56,215.44 L103.41,215.50 L104.26,215.56 L105.10,215.62 L105.95,215.67 L106.80,215.72 L107.64,215.77 L108.49,215.81 L109.34,215.86 L110.19,215.90 L111.03,215.94 L111.88,215.98 L112.73,216.02 L113.58,216.05 L114.42,216.09 L115.27,216.12 L116.12,216.15 L116.97,216.17 L117.81,216.20 L118.66,216.22 L119.51,216.25 L120.36,216.27 L121.21,216.29 L122.05,216.31 L122.90,216.32 L123.75,216.34 L124.60,216.35 L125.45,216.36 L126.30,216.37 L127.14,216.38 L127.99,216.39 L128.84,216.40 L129.69,216.40 L130.54,216.41 L131.39,216.41 L132.24,216.41 L133.08,216.41 L133.93,216.41 L134.78,216.41 L135.63,216.40 L136.48,216.40 L137.33,216.39 L138.18,216.39 L139.03,216.38 L139.88,216.37 L140.73,216.36 L141.58,216.35 L142.43,216.34 L143.27,216.33 L144.12,216.32 L144.97,216.30 L145.82,216.29 L146.67,216.27 L147.52,216.26 L148.37,216.24 L149.22,216.22 L150.07,216.21 L150.92,216.19 L151.77,216.17 L152.62,216.15 L153.47,216.13 L154.32,216.11 L155.17,216.09 L156.02,216.07 L156.87,216.05 L157.72,216.02 L158.57,216.00 L159.42,215.98 L160.27,215.96 L161.12,215.93 L161.97,215.91 L162.82,215.88 L163.67,215.86 L164.53,215.84 L165.38,215.81 L166.23,215.79 L167.08,215.76 L167.93,215.74 L168.78,215.71 L169.63,215.69 L170.48,215.67 L171.33,215.64 L172.18,215.62 L173.03,215.59 L173.88,215.57 L174.73,215.55 L175.58,215.52 L176.43,215.50 L177.28,215.48 L178.14,215.45 L178.99,215.43 L179.84,215.41 L180.69,215.39 L181.54,215.37 L182.39,215.35 L183.24,215.33 L184.09,215.31 L184.94,215.29 L185.79,215.27 L186.65,215.25 L187.50,215.23 L188.35,215.22 L189.20,215.20 L190.05,215.19 L190.90,215.17 L191.75,215.16 L192.60,215.15 L193.45,215.13 L194.30,215.12 L195.16,215.11 L196.01,215.10 L196.86,215.09 L197.71,215.08 L198.56,215.07 L199.41,215.07 L200.26,215.06 L201.11,215.05 L201.97,215.05 L202.82,215.05 L203.67,215.04 L204.52,215.04 L205.37,215.04 L206.22,215.04 L207.07,215.04 L207.92,215.04 L208.77,215.04 L209.63,215.04 L210.48,215.04 L211.33,215.05 L212.18,215.05 L213.03,215.06 L213.88,215.07 L214.73,215.07 L215.59,215.08 L216.44,215.09 L217.29,215.10 L218.14,215.11 L218.99,215.13 L219.84,215.14 L220.69,215.15 L221.54,215.17 L222.40,215.18 L223.25,215.20 L224.10,215.22 L224.95,215.24 L225.80,215.26 L226.65,215.28 L227.50,215.30 L228.35,215.32 L229.21,215.35 L230.06,215.37 L230.91,215.40 L231.76,215.43 L232.61,215.45 L233.46,215.48 L234.31,215.51 L235.16,215.54 L236.01,215.58 L236.87,215.61 L237.72,215.64 L238.57,215.68 L239.42,215.72 L240.27,215.76 L241.12,215.79 L241.97,215.83 L242.82,215.88 L243.68,215.92 L244.53,215.96 L245.38,216.01 L246.23,216.05 L247.08,216.10 L247.93,216.15 L248.78,216.20 L249.63,216.25 L250.48,216.30 L251.33,216.35 L252.19,216.41 L253.04,216.46 L253.89,216.52 L254.74,216.58 L255.59,216.64 L256.44,216.70 L257.29,216.76 L258.14,216.82 L258.99,216.88 L259.84,216.95 L260.70,217.02 L261.55,217.08 L262.40,217.15 L263.25,217.23 L264.10,217.30 L264.95,217.37 L265.80,217.45 L266.65,217.52 L267.50,217.60 L268.35,217.68 L269.20,217.76 L270.05,217.84 L270.90,217.92 L271.75,218.00 L272.60,218.09 L273.46,218.17 L274.31,218.26 L275.16,218.35 L276.01,218.44 L276.86,218.53 L277.71,218.62 L278.56,218.71 L279.41,218.81 L280.26,218.90 L281.11,219.00 L281.96,219.10 L282.81,219.19 L283.66,219.29 L284.51,219.39 L285.36,219.50 L286.21,219.60 L287.06,219.70 L287.91,219.81 L288.76,219.91 L289.61,220.02 L290.46,220.12 L291.31,220.23 L292.16,220.34 L293.01,220.45 L293.86,220.56 L294.71,220.67 L295.56,220.78 L296.41,220.90 L297.26,221.01 L298.11,221.12 L298.96,221.24 L299.81,221.36 L300.66,221.47 L301.51,221.59 L302.36,221.71 L303.21,221.83 L304.06,221.95 L304.91,222.07 L305.76,222.19 L306.61,222.31 L307.46,222.43 L308.30,222.56 L309.15,222.68 L310.00,222.80 L310.85,222.93 L311.70,223.05 L312.55,223.18 L313.40,223.31 L314.25,223.43 L315.10,223.56 L315.95,223.69 L316.80,223.82 L317.65,223.95 L318.49,224.08 L319.34,224.21 L320.19,224.34 L321.04,224.47 L321.89,224.60 L322.74,224.73 L323.59,224.86 L324.44,224.99 L325.28,225.13 L326.13,225.26 L326.98,225.39 L327.83,225.53 L328.68,225.66 L329.53,225.79 L330.37,225.93 L331.22,226.06 L332.07,226.20 L332.92,226.33 L333.77,226.47 L334.61,226.60 L335.46,226.74 L336.31,226.88 L337.16,227.01 L338.01,227.15 L338.85,227.28 L339.70,227.42 L340.55,227.56 L341.40,227.69 L342.25,227.83 L343.09,227.97 L343.94,228.10 L344.79,228.24 L345.63,228.38 L346.48,228.51 L347.33,228.65 L348.18,228.79 L349.02,228.92 L349.87,229.06 L350.72,229.20 L351.57,229.33 L352.41,229.47 L353.26,229.60 L354.11,229.74 L354.95,229.88 L355.80,230.01 L356.65,230.15 L357.49,230.28 L358.34,230.42 L359.19,230.55 L360.03,230.69 L360.88,230.82 L361.73,230.96 L362.57,231.09 L363.42,231.23 L364.26,231.36 L365.11,231.49 L365.96,231.63 L366.80,231.76 L367.65,231.89 L368.49,232.03 L369.34,232.16 L370.19,232.29 L371.03,232.43 L371.88,232.56 L372.72,232.69 L373.57,232.82 L374.41,232.96 L375.26,233.09 L376.10,233.22 L376.95,233.35 L377.79,233.48 L378.64,233.61 L379.48,233.74 L380.33,233.87 L381.17,234.00 L382.02,234.13 L382.86,234.26 L383.71,234.39 L384.55,234.52 L385.40,234.65 L386.24,234.78 L387.09,234.91 L387.93,235.04 L388.78,235.17 L389.62,235.30 L390.46,235.43 L391.31,235.56 L392.15,235.68 L393.00,235.81 L393.84,235.94 L394.68,236.07 L395.53,236.19 L396.37,236.32 L397.22,236.45 L398.06,236.57 L398.90,236.70 L399.75,236.83 L400.59,236.95 L401.43,237.08 L402.28,237.21 L403.12,237.33 L403.96,237.46 L404.80,237.58 L405.65,237.71 L406.49,237.83 L407.33,237.96 L408.18,238.08 L409.02,238.20 L409.86,238.33 L410.70,238.45 L411.54,238.57 L412.39,238.70 L413.23,238.82 L414.07,238.94 L414.91,239.07 L415.76,239.19 L416.60,239.31 L417.44,239.43 L418.28,239.55 L419.12,239.68 L419.96,239.80 L420.80,239.92 L421.65,240.04 L422.49,240.16 L423.33,240.28 L424.17,240.40 L425.01,240.52 L425.85,240.64 L426.69,240.76 L427.53,240.88 L428.37,241.00 L429.21,241.12 L430.05,241.24 L430.90,241.36 L431.74,241.47 L432.58,241.59 L433.42,241.71 L434.26,241.83 L435.10,241.94 L435.94,242.06 L436.78,242.18 L437.62,242.30 L438.45,242.41 L439.29,242.53 L440.13,242.64 L440.97,242.76 L441.81,242.88 L442.65,242.99 L443.49,243.11 L444.33,243.22 L445.17,243.34 L446.01,243.45 L446.85,243.56 L447.68,243.68 L448.52,243.79 L449.36,243.91 L450.20,244.02 L451.04,244.13 L451.88,244.24 L452.71,244.36 L453.55,244.47 L454.39,244.58 L455.23,244.69 L456.06,244.80 L456.90,244.92 L457.74,245.03 L458.58,245.14 L459.41,245.25 L460.25,245.36 L461.09,245.47 L461.93,245.58 L462.76,245.69 L463.60,245.80 L464.44,245.91 L465.27,246.01 L466.11,246.12 L466.94,246.23 L467.78,246.34 L468.62,246.45 L469.45,246.56 L470.29,246.66 L471.12,246.77 L471.96,246.88" stroke="#0000ff" stroke-dasharray="6.4 2.2"/>
<path d="M49.43,173.77 L50.23,174.14 L51.02,174.50 L51.81,174.86 L52.61,175.22 L53.40,175.58 L54.20,175.94 L55.00,176.30 L55.79,176.65 L56.59,177.00 L57.39,177.35 L58.19,177.70 L58.99,178.04 L59.79,178.38 L60.59,178.73 L61.39,179.07 L62.20,179.40 L63.00,179.74 L63.80,180.07 L64.61,180.40 L65.41,180.73 L66.22,181.06 L67.03,181.39 L67.83,181.71 L68.64,182.03 L69.45,182.35 L70.26,182.67 L71.07,182.98 L71.88,183.29 L72.69,183.60 L73.50,183.91 L74.31,184.22 L75.12,184.52 L75.94,184.83 L76.75,185.13 L77.57,185.43 L78.38,185.72 L79.20,186.02 L80.01,186.31 L80.83,186.60 L81.64,186.88 L82.46,187.17 L83.28,187.45 L84.10,187.73 L84.92,188.01 L85.74,188.29 L86.56,188.56 L87.38,188.83 L88.20,189.10 L89.02,189.37 L89.84,189.64 L90.67,189.90 L91.49,190.16 L92.31,190.42 L93.14,190.67 L93.96,190.93 L94.79,191.18 L95.61,191.43 L96.44,191.67 L97.27,191.92 L98.09,192.16 L98.92,192.40 L99.75,192.64 L100.58,192.87 L101.41,193.11 L102.24,193.34 L103.07,193.56 L103.90,193.79 L104.73,194.01 L105.56,194.23 L106.39,194.45 L107.22,194.67 L108.05,194.88 L108.89,195.09 L109.72,195.30 L110.55,195.51 L111.39,195.71 L112.22,195.91 L113.06,196.11 L113.89,196.31 L114.73,196.50 L115.57,196.69 L116.40,196.88 L117.24,197.07 L118.08,197.25 L118.92,197.43 L119.75,197.61 L120.59,197.79 L121.43,197.96 L122.27,198.13 L123.11,198.30 L123.95,198.47 L124.79,198.63 L125.63,198.79 L126.47,198.95 L127.31,199.11 L128.16,199.27 L129.00,199.42 L129.84,199.57 L130.68,199.72 L131.53,199.87 L132.37,200.01 L133.21,200.15 L134.06,200.29 L134.90,200.43 L135.75,200.57 L136.59,200.70 L137.44,200.83 L138.28,200.96 L139.13,201.09 L139.97,201.22 L140.82,201.34 L141.67,201.47 L142.51,201.59 L143.36,201.71 L144.21,201.83 L145.06,201.94 L145.90,202.06 L146.75,202.17 L147.60,202.28 L148.45,202.39 L149.30,202.50 L150.15,202.61 L151.00,202.71 L151.85,202.81 L152.70,202.92 L153.55,203.02 L154.40,203.12 L155.25,203.21 L156.10,203.31 L156.95,203.41 L157.80,203.50 L158.65,203.59 L159.50,203.68 L160.36,203.77 L161.21,203.86 L162.06,203.95 L162.91,204.04 L163.77,204.12 L164.62,204.21 L165.47,204.29 L166.32,204.37 L167.18,204.45 L168.03,204.54 L168.88,204.61 L169.74,204.69 L170.59,204.77 L171.45,204.85 L172.30,204.92 L173.15,205.00 L174.01,205.07 L174.86,205.15 L175.72,205.22 L176.57,205.29 L177.43,205.36 L178.28,205.44 L179.14,205.51 L179.99,205.58 L180.85,205.64 L181.71,205.71 L182.56,205.78 L183.42,205.85 L184.27,205.92 L185.13,205.98 L185.98,206.05 L186.84,206.12 L187.70,206.18 L188.55,206.25 L189.41,206.31 L190.27,206.38 L191.12,206.44 L191.98,206.50 L192.84,206.57 L193.69,206.63 L194.55,206.70 L195.40,206.76 L196.26,206.82 L197.12,206.89 L197.98,206.95 L198.83,207.01 L199.69,207.08 L200.55,207.14 L201.40,207.21 L202.26,207.27 L203.12,207.33 L203.97,207.40 L204.83,207.46 L205.69,207.52 L206.54,207.59 L207.40,207.65 L208.26,207.72 L209.12,207.78 L209.97,207.85 L210.83,207.91 L211.69,207.98 L212.54,208.04 L213.40,208.11 L214.26,208.17 L215.11,208.24 L215.97,208.31 L216.83,208.37 L217.69,208.44 L218.54,208.51 L219.40,208.57 L220.26,208.64 L221.11,208.71 L221.97,208.78 L222.83,208.85 L223.69,208.92 L224.54,208.98 L225.40,209.05 L226.26,209.12 L227.11,209.19 L227.97,209.26 L228.83,209.33 L229.69,209.40 L230.54,209.48 L231.40,209.55 L232.26,209.62 L233.12,209.69 L233.97,209.77 L234.83,209.84 L235.69,209.91 L236.54,209.99 L237.40,210.06 L238.26,210.14 L239.12,210.21 L239.97,210.29 L240.83,210.36 L241.69,210.44 L242.54,210.52 L243.40,210.60 L244.26,210.67 L245.12,210.75 L245.97,210.83 L246.83,210.91 L247.69,210.99 L248.55,211.07 L249.40,211.16 L250.26,211.24 L251.12,211.32 L251.97,211.40 L252.83,211.49 L253.69,211.57 L254.55,211.66 L255.40,211.74 L256.26,211.83 L257.12,211.92 L257.97,212.00 L258.83,212.09 L259.69,212.18 L260.55,212.27 L261.40,212.36 L262.26,212.45 L263.12,212.54 L263.97,212.63 L264.83,212.73 L265.69,212.82 L266.55,212.91 L267.40,213.01 L268.26,213.10 L269.12,213.20 L269.97,213.30 L270.83,213.40 L271.69,213.49 L272.54,213.59 L273.40,213.69 L274.26,213.80 L275.12,213.90 L275.97,214.00 L276.83,214.10 L277.69,214.21 L278.54,214.31 L279.40,214.42 L280.26,214.53 L281.11,214.63 L281.97,214.74 L282.83,214.85 L283.68,214.96 L284.54,215.07 L285.40,215.19 L286.25,215.30 L287.11,215.41 L287.97,215.53 L288.82,215.64 L289.68,215.76 L290.54,215.88 L291.39,216.00 L292.25,216.12 L293.11,216.24 L293.96,216.36 L294.82,216.48 L295.68,216.60 L296.53,216.73 L297.39,216.86 L298.25,216.98 L299.10,217.11 L299.96,217.24 L300.82,217.37 L301.67,217.50 L302.53,217.63 L303.38,217.76 L304.24,217.90 L305.10,218.03 L305.95,218.17 L306.81,218.30 L307.66,218.44 L308.52,218.58 L309.38,218.72 L310.23,218.86 L311.09,219.00 L311.95,219.14 L312.80,219.28 L313.66,219.42 L314.51,219.57 L315.37,219.71 L316.22,219.86 L317.08,220.00 L317.94,220.15 L318.79,220.29 L319.65,220.44 L320.50,220.59 L321.36,220.73 L322.21,220.88 L323.07,221.03 L323.93,221.18 L324.78,221.33 L325.64,221.48 L326.49,221.63 L327.35,221.78 L328.20,221.93 L329.06,222.08 L329.91,222.23 L330.77,222.38 L331.62,222.53 L332.48,222.68 L333.33,222.83 L334.19,222.98 L335.04,223.13 L335.90,223.29 L336.75,223.44 L337.61,223.59 L338.46,223.74 L339.32,223.89 L340.17,224.04 L341.03,224.19 L341.88,224.34 L342.74,224.49 L343.59,224.64 L344.45,224.79 L345.30,224.94 L346.16,225.09 L347.01,225.24 L347.87,225.39 L348.72,225.54 L349.57,225.69 L350.43,225.84 L351.28,225.98 L352.14,226.13 L352.99,226.28 L353.85,226.42 L354.70,226.57 L355.55,226.71 L356.41,226.86 L357.26,227.00 L358.12,227.14 L358.97,227.29 L359.82,227.43 L360.68,227.57 L361.53,227.71 L362.38,227.85 L363.24,227.99 L364.09,228.13 L364.95,228.27 L365.80,228.40 L366.65,228.54 L367.51,228.68 L368.36,228.81 L369.21,228.95 L370.07,229.08 L370.92,229.22 L371.77,229.35 L372.62,229.48 L373.48,229.62 L374.33,229.75 L375.18,229.88 L376.04,230.01 L376.89,230.14 L377.74,230.27 L378.59,230.40 L379.45,230.53 L380.30,230.66 L381.15,230.79 L382.00,230.92 L382.86,231.05 L383.71,231.17 L384.56,231.30 L385.41,231.43 L386.27,231.55 L387.12,231.68 L387.97,231.81 L388.82,231.93 L389.67,232.06 L390.52,232.18 L391.38,232.31 L392.23,232.43 L393.08,232.55 L393.93,232.68 L394.78,232.80 L395.63,232.92 L396.49,233.04 L397.34,233.17 L398.19,233.29 L399.04,233.41 L399.89,233.53 L400.74,233.65 L401.59,233.77 L402.44,233.89 L403.29,234.02 L404.15,234.14 L405.00,234.26 L405.85,234.38 L406.70,234.50 L407.55,234.62 L408.40,234.74 L409.25,234.85 L410.10,234.97 L410.95,235.09 L411.80,235.21 L412.65,235.33 L413.50,235.45 L414.35,235.57 L415.20,235.69 L416.05,235.81 L416.90,235.92 L417.75,236.04 L418.60,236.16 L419.45,236.28 L420.30,236.40 L421.15,236.52 L422.00,236.63 L422.84,236.75 L423.69,236.87 L424.54,236.99 L425.39,237.11 L426.24,237.23 L427.09,237.35 L427.94,237.46 L428.79,237.58 L429.64,237.70 L430.48,237.82 L431.33,237.94 L432.18,238.06 L433.03,238.18 L433.88,238.29 L434.73,238.41 L435.57,238.53 L436.42,238.65 L437.27,238.77 L438.12,238.89 L438.96,239.01 L439.81,239.13 L440.66,239.25 L441.51,239.37 L442.35,239.49 L443.20,239.61 L444.05,239.73 L444.90,239.85 L445.74,239.98 L446.59,240.10 L447.44,240.22 L448.28,240.34 L449.13,240.46 L449.98,240.59 L450.82,240.71 L451.67,240.83 L452.52,240.96 L453.36,241.08 L454.21,241.20 L455.06,241.33 L455.90,241.45 L456.75,241.58 L457.59,241.70 L458.44,241.83 L459.28,241.96 L460.13,242.08 L460.98,242.21 L461.82,242.34 L462.67,242.46 L463.51,242.59 L464.36,242.72 L465.20,242.85 L466.05,242.98 L466.89,243.11 L467.74,243.24 L468.58,243.37 L469.43,243.50 L470.27,243.63 L471.11,243.76 L471.96,243.90" stroke="#0000ff" stroke-dasharray="3.15 1.95"/>
<path d="M49.40,182.37 L50.11,182.91 L50.83,183.45 L51.54,183.98 L52.27,184.50 L52.99,185.01 L53.72,185.52 L54.44,186.02 L55.18,186.51 L55.91,186.99 L56.65,187.47 L57.39,187.93 L58.13,188.39 L58.87,188.85 L59.62,189.30 L60.37,189.73 L61.12,190.17 L61.88,190.59 L62.63,191.01 L63.39,191.42 L64.15,191.83 L64.92,192.23 L65.68,192.62 L66.45,193.00 L67.22,193.38 L68.00,193.75 L68.77,194.12 L69.55,194.47 L70.33,194.83 L71.11,195.17 L71.89,195.51 L72.68,195.85 L73.46,196.17 L74.25,196.50 L75.04,196.81 L75.84,197.12 L76.63,197.42 L77.43,197.72 L78.23,198.01 L79.03,198.30 L79.83,198.58 L80.63,198.86 L81.44,199.13 L82.24,199.39 L83.05,199.65 L83.86,199.90 L84.68,200.15 L85.49,200.39 L86.30,200.63 L87.12,200.86 L87.94,201.09 L88.76,201.31 L89.58,201.53 L90.40,201.75 L91.23,201.95 L92.05,202.16 L92.88,202.36 L93.71,202.55 L94.53,202.74 L95.36,202.92 L96.20,203.11 L97.03,203.28 L97.86,203.45 L98.70,203.62 L99.53,203.78 L100.37,203.94 L101.21,204.10 L102.05,204.25 L102.89,204.40 L103.73,204.54 L104.57,204.68 L105.41,204.82 L106.26,204.95 L107.10,205.08 L107.95,205.20 L108.79,205.32 L109.64,205.44 L110.49,205.56 L111.34,205.67 L112.19,205.78 L113.04,205.88 L113.89,205.98 L114.74,206.08 L115.60,206.17 L116.45,206.27 L117.30,206.36 L118.16,206.44 L119.02,206.53 L119.87,206.61 L120.73,206.69 L121.59,206.76 L122.45,206.83 L123.30,206.90 L124.16,206.97 L125.02,207.04 L125.89,207.10 L126.75,207.16 L127.61,207.22 L128.47,207.28 L129.33,207.33 L130.20,207.38 L131.06,207.43 L131.92,207.48 L132.79,207.53 L133.65,207.57 L134.52,207.62 L135.38,207.66 L136.25,207.70 L137.12,207.74 L137.98,207.77 L138.85,207.81 L139.72,207.84 L140.59,207.87 L141.45,207.91 L142.32,207.94 L143.19,207.96 L144.06,207.99 L144.93,208.02 L145.80,208.05 L146.67,208.07 L147.53,208.09 L148.40,208.12 L149.27,208.14 L150.14,208.16 L151.01,208.18 L151.88,208.20 L152.75,208.23 L153.62,208.25 L154.49,208.26 L155.36,208.28 L156.23,208.30 L157.10,208.32 L157.97,208.34 L158.84,208.36 L159.71,208.38 L160.58,208.40 L161.45,208.42 L162.32,208.43 L163.18,208.45 L164.05,208.47 L164.92,208.49 L165.79,208.51 L166.66,208.53 L167.53,208.55 L168.39,208.57 L169.26,208.60 L170.13,208.62 L171.00,208.64 L171.86,208.66 L172.73,208.68 L173.60,208.71 L174.47,208.73 L175.33,208.75 L176.20,208.78 L177.06,208.80 L177.93,208.83 L178.80,208.85 L179.66,208.88 L180.53,208.90 L181.39,208.93 L182.26,208.96 L183.12,208.98 L183.99,209.01 L184.86,209.04 L185.72,209.07 L186.58,209.10 L187.45,209.13 L188.31,209.16 L189.18,209.19 L190.04,209.22 L190.91,209.25 L191.77,209.28 L192.63,209.32 L193.50,209.35 L194.36,209.38 L195.22,209.42 L196.09,209.45 L196.95,209.49 L197.81,209.52 L198.68,209.56 L199.54,209.60 L200.40,209.63 L201.26,209.67 L202.13,209.71 L202.99,209.75 L203.85,209.79 L204.71,209.83 L205.57,209.87 L206.44,209.92 L207.30,209.96 L208.16,210.00 L209.02,210.05 L209.88,210.09 L210.74,210.14 L211.60,210.18 L212.46,210.23 L213.32,210.28 L214.18,210.33 L215.05,210.38 L215.91,210.43 L216.77,210.48 L217.63,210.53 L218.49,210.58 L219.35,210.63 L220.21,210.69 L221.06,210.74 L221.92,210.80 L222.78,210.85 L223.64,210.91 L224.50,210.97 L225.36,211.03 L226.22,211.09 L227.08,211.15 L227.94,211.21 L228.80,211.27 L229.65,211.33 L230.51,211.40 L231.37,211.46 L232.23,211.53 L233.09,211.59 L233.95,211.66 L234.80,211.73 L235.66,211.80 L236.52,211.87 L237.38,211.94 L238.23,212.01 L239.09,212.08 L239.95,212.16 L240.81,212.23 L241.66,212.31 L242.52,212.38 L243.38,212.46 L244.23,212.54 L245.09,212.62 L245.95,212.70 L246.80,212.78 L247.66,212.87 L248.52,212.95 L249.37,213.04 L250.23,213.12 L251.09,213.21 L251.94,213.30 L252.80,213.39 L253.65,213.48 L254.51,213.57 L255.36,213.66 L256.22,213.76 L257.08,213.85 L257.93,213.95 L258.79,214.04 L259.64,214.14 L260.50,214.24 L261.35,214.34 L262.21,214.44 L263.06,214.55 L263.92,214.65 L264.77,214.75 L265.63,214.86 L266.48,214.96 L267.33,215.07 L268.19,215.18 L269.04,215.29 L269.90,215.40 L270.75,215.51 L271.61,215.62 L272.46,215.73 L273.31,215.85 L274.17,215.96 L275.02,216.08 L275.88,216.19 L276.73,216.31 L277.58,216.43 L278.44,216.55 L279.29,216.67 L280.14,216.79 L281.00,216.91 L281.85,217.03 L282.71,217.15 L283.56,217.28 L284.41,217.40 L285.26,217.52 L286.12,217.65 L286.97,217.77 L287.82,217.90 L288.68,218.03 L289.53,218.16 L290.38,218.28 L291.24,218.41 L292.09,218.54 L292.94,218.67 L293.79,218.80 L294.65,218.94 L295.50,219.07 L296.35,219.20 L297.20,219.33 L298.06,219.47 L298.91,219.60 L299.76,219.74 L300.61,219.87 L301.46,220.01 L302.32,220.14 L303.17,220.28 L304.02,220.41 L304.87,220.55 L305.73,220.69 L306.58,220.83 L307.43,220.97 L308.28,221.10 L309.13,221.24 L309.98,221.38 L310.84,221.52 L311.69,221.66 L312.54,221.80 L313.39,221.94 L314.24,222.08 L315.09,222.23 L315.95,222.37 L316.80,222.51 L317.65,222.65 L318.50,222.79 L319.35,222.94 L320.20,223.08 L321.05,223.22 L321.91,223.36 L322.76,223.51 L323.61,223.65 L324.46,223.79 L325.31,223.94 L326.16,224.08 L327.01,224.22 L327.86,224.37 L328.72,224.51 L329.57,224.65 L330.42,224.80 L331.27,224.94 L332.12,225.09 L332.97,225.23 L333.82,225.37 L334.67,225.52 L335.52,225.66 L336.38,225.81 L337.23,225.95 L338.08,226.09 L338.93,226.24 L339.78,226.38 L340.63,226.52 L341.48,226.67 L342.33,226.81 L343.18,226.95 L344.03,227.10 L344.89,227.24 L345.74,227.38 L346.59,227.52 L347.44,227.66 L348.29,227.81 L349.14,227.95 L349.99,228.09 L350.84,228.23 L351.69,228.37 L352.54,228.51 L353.39,228.65 L354.24,228.79 L355.10,228.93 L355.95,229.07 L356.80,229.21 L357.65,229.35 L358.50,229.49 L359.35,229.63 L360.20,229.76 L361.05,229.90 L361.90,230.04 L362.75,230.18 L363.60,230.31 L364.46,230.45 L365.31,230.58 L366.16,230.72 L367.01,230.85 L367.86,230.99 L368.71,231.12 L369.56,231.26 L370.41,231.39 L371.26,231.53 L372.11,231.66 L372.97,231.79 L373.82,231.93 L374.67,232.06 L375.52,232.19 L376.37,232.33 L377.22,232.46 L378.07,232.59 L378.92,232.72 L379.78,232.85 L380.63,232.98 L381.48,233.11 L382.33,233.24 L383.18,233.38 L384.03,233.51 L384.88,233.64 L385.73,233.76 L386.59,233.89 L387.44,234.02 L388.29,234.15 L389.14,234.28 L389.99,234.41 L390.84,234.54 L391.70,234.67 L392.55,234.79 L393.40,234.92 L394.25,235.05 L395.10,235.18 L395.95,235.30 L396.81,235.43 L397.66,235.56 L398.51,235.68 L399.36,235.81 L400.21,235.94 L401.07,236.06 L401.92,236.19 L402.77,236.31 L403.62,236.44 L404.48,236.57 L405.33,236.69 L406.18,236.82 L407.03,236.94 L407.88,237.07 L408.74,237.19 L409.59,237.31 L410.44,237.44 L411.30,237.56 L412.15,237.69 L413.00,237.81 L413.85,237.93 L414.71,238.06 L415.56,238.18 L416.41,238.30 L417.26,238.43 L418.12,238.55 L418.97,238.67 L419.82,238.80 L420.68,238.92 L421.53,239.04 L422.38,239.17 L423.24,239.29 L424.09,239.41 L424.94,239.53 L425.80,239.65 L426.65,239.78 L427.51,239.90 L428.36,240.02 L429.21,240.14 L430.07,240.26 L430.92,240.39 L431.78,240.51 L432.63,240.63 L433.48,240.75 L434.34,240.87 L435.19,240.99 L436.05,241.11 L436.90,241.24 L437.76,241.36 L438.61,241.48 L439.47,241.60 L440.32,241.72 L441.18,241.84 L442.03,241.96 L442.89,242.08 L443.74,242.20 L444.60,242.32 L445.45,242.44 L446.31,242.57 L447.16,242.69 L448.02,242.81 L448.87,242.93 L449.73,243.05 L450.58,243.17 L451.44,243.29 L452.30,243.41 L453.15,243.53 L454.01,243.65 L454.86,243.77 L455.72,243.89 L456.58,244.01 L457.43,244.13 L458.29,244.26 L459.15,244.38 L460.00,244.50 L460.86,244.62 L461.72,244.74 L462.57,244.86 L463.43,244.98 L464.29,245.10 L465.15,245.22 L466.00,245.34 L466.86,245.46 L467.72,245.58 L468.58,245.71 L469.43,245.83 L470.29,245.95 L471.15,246.07 L472.01,246.19" stroke="#ff0000"/>
<path d="M50.24,18.42 L50.39,19.47 L50.55,20.52 L50.70,21.56 L50.86,22.61 L51.02,23.66 L51.18,24.71 L51.34,25.76 L51.51,26.81 L51.68,27.86 L51.85,28.91 L52.02,29.96 L52.20,31.01 L52.38,32.06 L52.56,33.12 L52.74,34.17 L52.92,35.22 L53.11,36.27 L53.30,37.32 L53.49,38.37 L53.68,39.42 L53.88,40.47 L54.07,41.52 L54.27,42.57 L54.47,43.63 L54.68,44.68 L54.88,45.73 L55.09,46.78 L55.30,47.83 L55.52,48.88 L55.73,49.93 L55.95,50.97 L56.17,52.02 L56.39,53.07 L56.61,54.12 L56.83,55.17 L57.06,56.21 L57.29,57.26 L57.52,58.31 L57.76,59.35 L57.99,60.40 L58.23,61.44 L58.47,62.48 L58.71,63.53 L58.96,64.57 L59.20,65.61 L59.45,66.65 L59.70,67.69 L59.95,68.73 L60.21,69.77 L60.46,70.81 L60.72,71.85 L60.99,72.88 L61.25,73.92 L61.52,74.95 L61.79,75.99 L62.06,77.02 L62.34,78.05 L62.61,79.08 L62.90,80.11 L63.18,81.14 L63.47,82.17 L63.76,83.20 L64.06,84.22 L64.36,85.25 L64.66,86.27 L64.96,87.29 L65.27,88.31 L65.59,89.33 L65.90,90.35 L66.23,91.37 L66.55,92.38 L66.88,93.40 L67.21,94.41 L67.55,95.42 L67.89,96.43 L68.24,97.44 L68.59,98.45 L68.95,99.45 L69.31,100.46 L69.67,101.46 L70.04,102.46 L70.42,103.46 L70.80,104.46 L71.18,105.46 L71.57,106.45 L71.97,107.44 L72.37,108.44 L72.78,109.42 L73.19,110.41 L73.60,111.40 L74.03,112.38 L74.45,113.36 L74.89,114.34 L75.33,115.32 L75.78,116.30 L76.23,117.27 L76.69,118.25 L77.15,119.22 L77.62,120.19 L78.10,121.15 L78.58,122.12 L79.07,123.08 L79.56,124.03 L80.07,124.99 L80.57,125.94 L81.09,126.89 L81.61,127.84 L82.14,128.78 L82.67,129.72 L83.21,130.65 L83.76,131.59 L84.31,132.51 L84.87,133.44 L85.43,134.35 L86.01,135.27 L86.58,136.18 L87.17,137.08 L87.76,137.98 L88.36,138.88 L88.96,139.77 L89.58,140.65 L90.19,141.53 L90.82,142.40 L91.45,143.27 L92.09,144.13 L92.74,144.99 L93.39,145.84 L94.05,146.68 L94.71,147.52 L95.38,148.35 L96.06,149.17 L96.75,149.99 L97.44,150.80 L98.14,151.60 L98.85,152.40 L99.56,153.19 L100.28,153.97 L101.01,154.74 L101.75,155.51 L102.49,156.27 L103.24,157.02 L103.99,157.76 L104.76,158.50 L105.53,159.23 L106.31,159.94 L107.09,160.66 L107.88,161.36 L108.68,162.05 L109.49,162.74 L110.30,163.41 L111.12,164.08 L111.95,164.74 L112.79,165.39 L113.63,166.03 L114.48,166.66 L115.33,167.29 L116.20,167.90 L117.07,168.51 L117.94,169.10 L118.82,169.69 L119.71,170.27 L120.61,170.85 L121.51,171.41 L122.41,171.97 L123.32,172.51 L124.24,173.05 L125.16,173.59 L126.09,174.11 L127.02,174.63 L127.95,175.14 L128.89,175.64 L129.84,176.13 L130.79,176.62 L131.74,177.10 L132.70,177.57 L133.66,178.04 L134.62,178.50 L135.59,178.95 L136.56,179.39 L137.53,179.83 L138.51,180.27 L139.49,180.69 L140.47,181.11 L141.45,181.52 L142.44,181.93 L143.42,182.33 L144.41,182.72 L145.41,183.11 L146.40,183.50 L147.40,183.87 L148.39,184.24 L149.39,184.61 L150.40,184.97 L151.40,185.32 L152.40,185.67 L153.41,186.02 L154.42,186.35 L155.43,186.69 L156.44,187.02 L157.45,187.34 L158.47,187.66 L159.49,187.97 L160.50,188.28 L161.52,188.58 L162.54,188.88 L163.57,189.18 L164.59,189.47 L165.62,189.75 L166.64,190.03 L167.67,190.31 L168.70,190.58 L169.73,190.85 L170.76,191.12 L171.80,191.38 L172.83,191.64 L173.87,191.89 L174.90,192.14 L175.94,192.38 L176.98,192.63 L178.02,192.87 L179.06,193.10 L180.11,193.34 L181.15,193.56 L182.19,193.79 L183.24,194.01 L184.29,194.23 L185.33,194.45 L186.38,194.67 L187.43,194.88 L188.48,195.09 L189.53,195.29 L190.58,195.50 L191.63,195.70 L192.69,195.90 L193.74,196.10 L194.79,196.29 L195.85,196.48 L196.91,196.67 L197.96,196.86 L199.02,197.05 L200.08,197.23 L201.13,197.42 L202.19,197.60 L203.25,197.78 L204.31,197.96 L205.37,198.14 L206.43,198.31 L207.49,198.49 L208.55,198.66 L209.61,198.83 L210.67,199.00 L211.73,199.17 L212.79,199.34 L213.86,199.51 L214.92,199.68 L215.98,199.85 L217.04,200.02 L218.10,200.18 L219.17,200.35 L220.23,200.52 L221.29,200.68 L222.35,200.85 L223.42,201.01 L224.48,201.18 L225.54,201.34 L226.60,201.51 L227.66,201.68 L228.73,201.84 L229.79,202.01 L230.85,202.18 L231.91,202.35 L232.97,202.51 L234.03,202.68 L235.09,202.85 L236.15,203.02 L237.21,203.19 L238.27,203.36 L239.33,203.54 L240.39,203.71 L241.45,203.88 L242.51,204.05 L243.56,204.23 L244.62,204.40 L245.68,204.58 L246.74,204.75 L247.80,204.93 L248.85,205.10 L249.91,205.28 L250.97,205.46 L252.02,205.63 L253.08,205.81 L254.14,205.99 L255.19,206.17 L256.25,206.35 L257.30,206.53 L258.36,206.71 L259.41,206.89 L260.47,207.07 L261.52,207.25 L262.58,207.43 L263.63,207.61 L264.69,207.79 L265.74,207.98 L266.80,208.16 L267.85,208.34 L268.90,208.53 L269.96,208.71 L271.01,208.89 L272.06,209.08 L273.12,209.26 L274.17,209.45 L275.22,209.63 L276.27,209.82 L277.33,210.01 L278.38,210.19 L279.43,210.38 L280.48,210.57 L281.53,210.75 L282.59,210.94 L283.64,211.13 L284.69,211.32 L285.74,211.51 L286.79,211.69 L287.84,211.88 L288.89,212.07 L289.94,212.26 L290.99,212.45 L292.04,212.64 L293.09,212.83 L294.15,213.02 L295.20,213.21 L296.25,213.40 L297.30,213.59 L298.35,213.78 L299.39,213.98 L300.44,214.17 L301.49,214.36 L302.54,214.55 L303.59,214.74 L304.64,214.93 L305.69,215.13 L306.74,215.32 L307.79,215.51 L308.84,215.70 L309.89,215.90 L310.94,216.09 L311.99,216.28 L313.03,216.48 L314.08,216.67 L315.13,216.86 L316.18,217.06 L317.23,217.25 L318.28,217.44 L319.32,217.64 L320.37,217.83 L321.42,218.03 L322.47,218.22 L323.52,218.41 L324.57,218.61 L325.61,218.80 L326.66,219.00 L327.71,219.19 L328.76,219.38 L329.81,219.58 L330.85,219.77 L331.90,219.97 L332.95,220.16 L334.00,220.36 L335.05,220.55 L336.09,220.75 L337.14,220.94 L338.19,221.13 L339.24,221.33 L340.28,221.52 L341.33,221.72 L342.38,221.91 L343.43,222.10 L344.48,222.30 L345.52,222.49 L346.57,222.69 L347.62,222.88 L348.67,223.07 L349.71,223.27 L350.76,223.46 L351.81,223.66 L352.86,223.85 L353.91,224.04 L354.95,224.24 L356.00,224.43 L357.05,224.62 L358.10,224.81 L359.15,225.01 L360.19,225.20 L361.24,225.39 L362.29,225.58 L363.34,225.78 L364.39,225.97 L365.44,226.16 L366.48,226.35 L367.53,226.54 L368.58,226.74 L369.63,226.93 L370.68,227.12 L371.73,227.31 L372.78,227.50 L373.82,227.69 L374.87,227.88 L375.92,228.07 L376.97,228.26 L378.02,228.45 L379.07,228.64 L380.12,228.83 L381.17,229.02 L382.22,229.20 L383.27,229.39 L384.32,229.58 L385.37,229.77 L386.42,229.96 L387.47,230.14 L388.52,230.33 L389.57,230.52 L390.62,230.70 L391.67,230.89 L392.72,231.07 L393.77,231.26 L394.82,231.44 L395.87,231.63 L396.92,231.81 L397.97,232.00 L399.02,232.18 L400.08,232.36 L401.13,232.55 L402.18,232.73 L403.23,232.91 L404.28,233.09 L405.34,233.28 L406.39,233.46 L407.44,233.64 L408.49,233.82 L409.55,234.00 L410.60,234.18 L411.65,234.36 L412.70,234.53 L413.76,234.71 L414.81,234.89 L415.86,235.07 L416.92,235.25 L417.97,235.42 L419.03,235.60 L420.08,235.77 L421.14,235.95 L422.19,236.12 L423.25,236.30 L424.30,236.47 L425.36,236.64 L426.41,236.82 L427.47,236.99 L428.52,237.16 L429.58,237.33 L430.64,237.50 L431.69,237.67 L432.75,237.84 L433.81,238.01 L434.86,238.18 L435.92,238.35 L436.98,238.52 L438.03,238.69 L439.09,238.85 L440.15,239.02 L441.21,239.18 L442.27,239.35 L443.33,239.51 L444.39,239.68 L445.45,239.84 L446.50,240.00 L447.56,240.16 L448.62,240.32 L449.68,240.49 L450.75,240.65 L451.81,240.80 L452.87,240.96 L453.93,241.12 L454.99,241.28 L456.05,241.44 L457.11,241.59 L458.18,241.75 L459.24,241.90 L460.30,242.06 L461.36,242.21 L462.43,242.36 L463.49,242.52 L464.56,242.67 L465.62,242.82 L466.68,242.97 L467.75,243.12 L468.81,243.27 L469.88,243.41 L470.95,243.56 L472.01,243.71" stroke="#ff0000" stroke-dasharray="6.4 2.2"/>
<path d="M85.28,-3.97 L85.44,-2.97 L85.59,-1.98 L85.75,-0.99 L85.90,0.01 L86.06,1.00 L86.22,2.00 L86.38,2.99 L86.54,3.99 L86.70,4.99 L86.86,5.99 L87.02,6.99 L87.19,7.99 L87.35,8.99 L87.52,9.99 L87.68,11.00 L87.85,12.00 L88.02,13.00 L88.19,14.01 L88.36,15.01 L88.53,16.02 L88.70,17.03 L88.88,18.03 L89.05,19.04 L89.23,20.05 L89.41,21.05 L89.59,22.06 L89.77,23.07 L89.95,24.08 L90.13,25.09 L90.32,26.10 L90.51,27.10 L90.70,28.11 L90.89,29.12 L91.08,30.13 L91.27,31.14 L91.47,32.15 L91.66,33.16 L91.86,34.17 L92.06,35.18 L92.27,36.19 L92.47,37.20 L92.68,38.21 L92.89,39.22 L93.10,40.23 L93.31,41.24 L93.52,42.24 L93.74,43.25 L93.96,44.26 L94.18,45.27 L94.41,46.27 L94.63,47.28 L94.86,48.29 L95.09,49.29 L95.32,50.30 L95.56,51.30 L95.79,52.31 L96.03,53.31 L96.28,54.32 L96.52,55.32 L96.77,56.32 L97.02,57.32 L97.27,58.32 L97.53,59.32 L97.78,60.32 L98.04,61.32 L98.31,62.32 L98.57,63.32 L98.84,64.31 L99.11,65.31 L99.39,66.30 L99.67,67.30 L99.95,68.29 L100.23,69.28 L100.52,70.27 L100.81,71.26 L101.10,72.25 L101.40,73.23 L101.70,74.22 L102.00,75.21 L102.30,76.19 L102.61,77.17 L102.92,78.15 L103.24,79.13 L103.56,80.11 L103.88,81.09 L104.21,82.06 L104.54,83.04 L104.87,84.01 L105.20,84.98 L105.54,85.95 L105.89,86.92 L106.23,87.89 L106.59,88.85 L106.94,89.82 L107.30,90.78 L107.66,91.74 L108.03,92.70 L108.40,93.66 L108.77,94.61 L109.15,95.57 L109.53,96.52 L109.91,97.47 L110.30,98.42 L110.70,99.36 L111.10,100.31 L111.50,101.25 L111.91,102.19 L112.32,103.12 L112.74,104.06 L113.16,104.99 L113.59,105.92 L114.02,106.85 L114.45,107.77 L114.89,108.69 L115.34,109.61 L115.79,110.53 L116.25,111.44 L116.71,112.35 L117.18,113.26 L117.65,114.16 L118.13,115.06 L118.61,115.96 L119.10,116.85 L119.60,117.74 L120.10,118.63 L120.61,119.51 L121.12,120.39 L121.64,121.27 L122.16,122.14 L122.69,123.01 L123.23,123.87 L123.78,124.74 L124.33,125.59 L124.88,126.45 L125.45,127.29 L126.02,128.14 L126.59,128.98 L127.18,129.81 L127.77,130.65 L128.37,131.47 L128.97,132.30 L129.58,133.11 L130.20,133.93 L130.82,134.74 L131.46,135.54 L132.10,136.34 L132.74,137.13 L133.39,137.92 L134.05,138.71 L134.72,139.49 L135.39,140.26 L136.07,141.03 L136.75,141.79 L137.44,142.55 L138.14,143.30 L138.84,144.05 L139.55,144.79 L140.27,145.53 L140.99,146.26 L141.71,146.98 L142.44,147.70 L143.18,148.41 L143.92,149.12 L144.67,149.82 L145.42,150.52 L146.18,151.21 L146.94,151.89 L147.71,152.56 L148.48,153.23 L149.26,153.90 L150.05,154.55 L150.83,155.21 L151.62,155.85 L152.42,156.49 L153.22,157.12 L154.03,157.74 L154.84,158.36 L155.65,158.97 L156.47,159.57 L157.29,160.17 L158.12,160.75 L158.95,161.34 L159.78,161.91 L160.62,162.48 L161.46,163.05 L162.31,163.60 L163.16,164.15 L164.01,164.69 L164.87,165.23 L165.73,165.76 L166.60,166.29 L167.46,166.81 L168.34,167.32 L169.21,167.83 L170.09,168.33 L170.97,168.83 L171.86,169.32 L172.74,169.80 L173.64,170.28 L174.53,170.75 L175.43,171.22 L176.33,171.68 L177.23,172.14 L178.14,172.59 L179.05,173.04 L179.96,173.48 L180.88,173.92 L181.80,174.35 L182.72,174.78 L183.64,175.20 L184.57,175.62 L185.50,176.03 L186.43,176.44 L187.37,176.84 L188.30,177.24 L189.24,177.64 L190.18,178.03 L191.13,178.41 L192.07,178.79 L193.02,179.17 L193.97,179.55 L194.93,179.92 L195.88,180.28 L196.84,180.65 L197.80,181.00 L198.76,181.36 L199.72,181.71 L200.69,182.06 L201.65,182.40 L202.62,182.74 L203.59,183.08 L204.56,183.42 L205.54,183.75 L206.51,184.07 L207.49,184.40 L208.47,184.72 L209.45,185.04 L210.43,185.36 L211.41,185.67 L212.39,185.98 L213.38,186.29 L214.36,186.59 L215.35,186.90 L216.34,187.20 L217.33,187.50 L218.32,187.79 L219.31,188.08 L220.30,188.38 L221.30,188.66 L222.29,188.95 L223.29,189.24 L224.28,189.52 L225.28,189.80 L226.28,190.08 L227.28,190.36 L228.27,190.64 L229.27,190.91 L230.27,191.18 L231.27,191.46 L232.27,191.73 L233.27,192.00 L234.27,192.26 L235.27,192.53 L236.28,192.80 L237.28,193.06 L238.28,193.33 L239.28,193.59 L240.28,193.85 L241.28,194.11 L242.29,194.37 L243.29,194.63 L244.29,194.89 L245.29,195.15 L246.29,195.41 L247.29,195.67 L248.29,195.93 L249.29,196.18 L250.29,196.44 L251.29,196.70 L252.29,196.95 L253.29,197.21 L254.29,197.46 L255.29,197.72 L256.29,197.97 L257.29,198.22 L258.29,198.48 L259.29,198.73 L260.29,198.98 L261.28,199.23 L262.28,199.48 L263.28,199.73 L264.28,199.98 L265.28,200.23 L266.28,200.48 L267.27,200.72 L268.27,200.97 L269.27,201.22 L270.27,201.47 L271.26,201.71 L272.26,201.96 L273.26,202.20 L274.26,202.45 L275.25,202.69 L276.25,202.93 L277.25,203.17 L278.24,203.42 L279.24,203.66 L280.24,203.90 L281.23,204.14 L282.23,204.38 L283.23,204.62 L284.22,204.86 L285.22,205.10 L286.22,205.33 L287.21,205.57 L288.21,205.81 L289.20,206.05 L290.20,206.28 L291.20,206.52 L292.19,206.75 L293.19,206.99 L294.18,207.22 L295.18,207.45 L296.17,207.69 L297.17,207.92 L298.17,208.15 L299.16,208.38 L300.16,208.61 L301.15,208.84 L302.15,209.07 L303.14,209.30 L304.14,209.53 L305.13,209.76 L306.13,209.99 L307.12,210.21 L308.12,210.44 L309.11,210.67 L310.11,210.89 L311.11,211.12 L312.10,211.34 L313.10,211.57 L314.09,211.79 L315.09,212.01 L316.08,212.24 L317.08,212.46 L318.07,212.68 L319.07,212.90 L320.06,213.12 L321.06,213.34 L322.05,213.56 L323.05,213.78 L324.04,214.00 L325.04,214.22 L326.04,214.43 L327.03,214.65 L328.03,214.87 L329.02,215.08 L330.02,215.30 L331.01,215.52 L332.01,215.73 L333.01,215.94 L334.00,216.16 L335.00,216.37 L335.99,216.58 L336.99,216.79 L337.99,217.01 L338.98,217.22 L339.98,217.43 L340.97,217.64 L341.97,217.85 L342.97,218.06 L343.96,218.26 L344.96,218.47 L345.96,218.68 L346.95,218.89 L347.95,219.09 L348.95,219.30 L349.94,219.51 L350.94,219.71 L351.94,219.91 L352.94,220.12 L353.93,220.32 L354.93,220.52 L355.93,220.73 L356.93,220.93 L357.92,221.13 L358.92,221.33 L359.92,221.53 L360.92,221.73 L361.92,221.93 L362.91,222.13 L363.91,222.33 L364.91,222.53 L365.91,222.72 L366.91,222.92 L367.91,223.12 L368.91,223.31 L369.91,223.51 L370.91,223.70 L371.91,223.90 L372.91,224.09 L373.91,224.29 L374.91,224.48 L375.91,224.67 L376.91,224.86 L377.91,225.06 L378.91,225.25 L379.91,225.44 L380.91,225.63 L381.91,225.82 L382.91,226.01 L383.92,226.19 L384.92,226.38 L385.92,226.57 L386.92,226.76 L387.92,226.94 L388.93,227.13 L389.93,227.32 L390.93,227.50 L391.93,227.68 L392.94,227.87 L393.94,228.05 L394.95,228.24 L395.95,228.42 L396.95,228.60 L397.96,228.78 L398.96,228.96 L399.97,229.14 L400.97,229.32 L401.98,229.50 L402.98,229.68 L403.99,229.86 L404.99,230.04 L406.00,230.22 L407.01,230.39 L408.01,230.57 L409.02,230.75 L410.03,230.92 L411.04,231.10 L412.04,231.27 L413.05,231.45 L414.06,231.62 L415.07,231.79 L416.08,231.97 L417.08,232.14 L418.09,232.31 L419.10,232.48 L420.11,232.65 L421.12,232.82 L422.13,232.99 L423.14,233.16 L424.15,233.33 L425.17,233.50 L426.18,233.67 L427.19,233.84 L428.20,234.00 L429.21,234.17 L430.22,234.34 L431.24,234.50 L432.25,234.67 L433.26,234.83 L434.28,235.00 L435.29,235.16 L436.31,235.32 L437.32,235.48 L438.34,235.65 L439.35,235.81 L440.37,235.97 L441.38,236.13 L442.40,236.29 L443.41,236.45 L444.43,236.61 L445.45,236.77 L446.47,236.93 L447.48,237.08 L448.50,237.24 L449.52,237.40 L450.54,237.55 L451.56,237.71 L452.58,237.87 L453.60,238.02 L454.62,238.18 L455.64,238.33 L456.66,238.48 L457.68,238.64 L458.70,238.79 L459.72,238.94 L460.75,239.09 L461.77,239.24 L462.79,239.39 L463.82,239.54 L464.84,239.69 L465.86,239.84 L466.89,239.99 L467.91,240.14 L468.94,240.29 L469.97,240.43 L470.99,240.58 L472.02,240.73" stroke="#ff0000" stroke-dasharray="3.15 1.95"/>
</g>
<path d="M51.7,0.45 H471.4 V315.2 H51.7 Z" stroke="#7a7a7a" stroke-width="1" fill="none"/>
<g font-family='"Liberation Serif", serif' font-size="19" fill="#000">
<text x="67.7" y="337.8" text-anchor="middle" textLength="32" lengthAdjust="spacingAndGlyphs">17.6</text>
<text x="145.2" y="337.8" text-anchor="middle" textLength="32" lengthAdjust="spacingAndGlyphs">17.8</text>
<text x="222.7" y="337.8" text-anchor="middle" textLength="32" lengthAdjust="spacingAndGlyphs">18.0</text>
<text x="300.2" y="337.8" text-anchor="middle" textLength="32" lengthAdjust="spacingAndGlyphs">18.2</text>
<text x="377.7" y="337.8" text-anchor="middle" textLength="32" lengthAdjust="spacingAndGlyphs">18.4</text>
<text x="455.2" y="337.8" text-anchor="middle" textLength="32" lengthAdjust="spacingAndGlyphs">18.6</text>
<text x="48.1" y="316.5" text-anchor="end" textLength="8.6" lengthAdjust="spacingAndGlyphs">5</text>
<text x="48.1" y="243.3" text-anchor="end" textLength="17.1" lengthAdjust="spacingAndGlyphs">10</text>
<text x="48.1" y="170.2" text-anchor="end" textLength="17.1" lengthAdjust="spacingAndGlyphs">15</text>
<text x="48.1" y="97.0" text-anchor="end" textLength="17.1" lengthAdjust="spacingAndGlyphs">20</text>
<text x="48.1" y="23.9" text-anchor="end" textLength="17.1" lengthAdjust="spacingAndGlyphs">25</text>
</g>
<g font-family='"Liberation Serif", serif' fill="#000">
<text x="206.25" y="368.20" font-size="18.0" textLength="28.24" lengthAdjust="spacingAndGlyphs">Log</text>
<text x="239.94" y="368.20" font-size="18.0" font-style="italic" textLength="8.13" lengthAdjust="spacingAndGlyphs">ρ</text>
<text x="248.37" y="371.10" font-size="12.5" font-style="italic" textLength="6.41" lengthAdjust="spacingAndGlyphs">c</text>
<text x="259.70" y="368.20" font-size="18.0" textLength="26.18" lengthAdjust="spacingAndGlyphs">[kg</text>
<text x="285.57" y="368.20" font-size="18.0" textLength="7.34" lengthAdjust="spacingAndGlyphs">/</text>
<text x="295.82" y="368.20" font-size="18.0" font-style="italic" textLength="11.87" lengthAdjust="spacingAndGlyphs">m</text>
<text x="307.01" y="360.90" font-size="10.5" textLength="5.26" lengthAdjust="spacingAndGlyphs">3</text>
<text x="312.10" y="368.20" font-size="18.0" textLength="5.18" lengthAdjust="spacingAndGlyphs">]</text>
<g transform="translate(18.8,200) rotate(-90)">
<text x="8.43" y="0.00" font-size="18.0" font-style="italic" textLength="6.79" lengthAdjust="spacingAndGlyphs">r</text>
<text x="15.94" y="3.40" font-size="12.5" textLength="17.35" lengthAdjust="spacingAndGlyphs">sur</text>
<text x="38.38" y="0.00" font-size="18.0" textLength="35.97" lengthAdjust="spacingAndGlyphs">[km]</text>
</g>
</g>
<g font-family='"Liberation Serif", serif' fill="#ff0000">
<text x="152.99" y="30.30" font-size="14.3" textLength="25.39" lengthAdjust="spacingAndGlyphs">SLy</text>
<path d="M120.20,50.00 H143.50" stroke="#ff0000" stroke-width="1.85" fill="none"/>
<text x="149.61" y="53.70" font-size="14.3" font-style="italic" textLength="8.04" lengthAdjust="spacingAndGlyphs">β</text>
<text x="160.80" y="53.70" font-size="14.3" textLength="53.15" lengthAdjust="spacingAndGlyphs">= 0 (GR)</text>
<path d="M120.20,72.60 H143.50" stroke="#ff0000" stroke-width="1.85" fill="none" stroke-dasharray="6.1 2.3"/>
<text x="149.61" y="76.30" font-size="14.3" font-style="italic" textLength="8.04" lengthAdjust="spacingAndGlyphs">β</text>
<text x="160.80" y="76.30" font-size="14.3" textLength="45.89" lengthAdjust="spacingAndGlyphs">= −0.01</text>
<path d="M120.20,95.20 H143.50" stroke="#ff0000" stroke-width="1.85" fill="none" stroke-dasharray="2.7 1.73"/>
<text x="149.61" y="98.90" font-size="14.3" font-style="italic" textLength="8.04" lengthAdjust="spacingAndGlyphs">β</text>
<text x="160.80" y="98.90" font-size="14.3" textLength="45.99" lengthAdjust="spacingAndGlyphs">= −0.02</text>
</g>
<g font-family='"Liberation Serif", serif' fill="#0000ff">
<text x="273.16" y="30.30" font-size="14.3" textLength="31.06" lengthAdjust="spacingAndGlyphs">APR</text>
<path d="M239.20,50.00 H262.50" stroke="#0000ff" stroke-width="1.85" fill="none"/>
<text x="268.61" y="53.70" font-size="14.3" font-style="italic" textLength="8.04" lengthAdjust="spacingAndGlyphs">β</text>
<text x="279.80" y="53.70" font-size="14.3" textLength="53.15" lengthAdjust="spacingAndGlyphs">= 0 (GR)</text>
<path d="M239.20,72.60 H262.50" stroke="#0000ff" stroke-width="1.85" fill="none" stroke-dasharray="6.1 2.3"/>
<text x="268.61" y="76.30" font-size="14.3" font-style="italic" textLength="8.04" lengthAdjust="spacingAndGlyphs">β</text>
<text x="279.80" y="76.30" font-size="14.3" textLength="45.99" lengthAdjust="spacingAndGlyphs">= −0.06</text>
<path d="M239.20,95.20 H262.50" stroke="#0000ff" stroke-width="1.85" fill="none" stroke-dasharray="2.7 1.73"/>
<text x="268.61" y="98.90" font-size="14.3" font-style="italic" textLength="8.04" lengthAdjust="spacingAndGlyphs">β</text>
<text x="279.80" y="98.90" font-size="14.3" textLength="45.89" lengthAdjust="spacingAndGlyphs">= −0.12</text>
</g>
<g font-family='"Liberation Serif", serif' fill="#000000">
<text x="343.25" y="137.00" font-size="14.3" textLength="100.33" lengthAdjust="spacingAndGlyphs">MIT bag model</text>
<path d="M348.50,157.30 H371.80" stroke="#000000" stroke-width="1.85" fill="none"/>
<text x="377.91" y="161.00" font-size="14.3" font-style="italic" textLength="8.04" lengthAdjust="spacingAndGlyphs">β</text>
<text x="389.10" y="161.00" font-size="14.3" textLength="53.15" lengthAdjust="spacingAndGlyphs">= 0 (GR)</text>
<path d="M348.50,179.90 H371.80" stroke="#000000" stroke-width="1.85" fill="none" stroke-dasharray="6.1 2.3"/>
<text x="377.91" y="183.60" font-size="14.3" font-style="italic" textLength="8.04" lengthAdjust="spacingAndGlyphs">β</text>
<text x="389.10" y="183.60" font-size="14.3" textLength="45.99" lengthAdjust="spacingAndGlyphs">= −0.20</text>
<path d="M348.50,202.50 H371.80" stroke="#000000" stroke-width="1.85" fill="none" stroke-dasharray="2.7 1.73"/>
<text x="377.91" y="206.20" font-size="14.3" font-style="italic" textLength="8.04" lengthAdjust="spacingAndGlyphs">β</text>
<text x="389.10" y="206.20" font-size="14.3" textLength="45.99" lengthAdjust="spacingAndGlyphs">= −0.40</text>
</g>
</svg>
</body></html>
